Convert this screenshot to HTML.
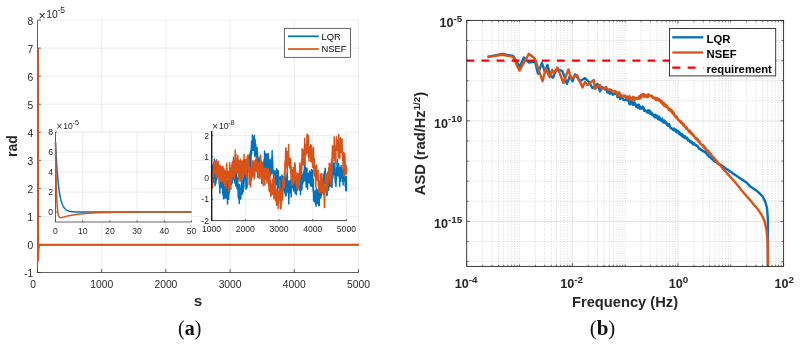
<!DOCTYPE html>
<html><head><meta charset="utf-8"><title>figure</title>
<style>
html,body{margin:0;padding:0;background:#fff;}
body{width:800px;height:344px;overflow:hidden;}
svg{display:block;font-family:"Liberation Sans",sans-serif;will-change:transform;}
</style></head><body>
<svg width="800" height="344" viewBox="0 0 800 344">
<rect width="800" height="344" fill="#fff"/>
<g shape-rendering="auto">
<line x1="37.50" y1="20.1" x2="37.50" y2="272.5" stroke="#DFDFDF" stroke-width="0.6"/>
<line x1="101.70" y1="20.1" x2="101.70" y2="272.5" stroke="#DFDFDF" stroke-width="0.6"/>
<line x1="165.90" y1="20.1" x2="165.90" y2="272.5" stroke="#DFDFDF" stroke-width="0.6"/>
<line x1="230.10" y1="20.1" x2="230.10" y2="272.5" stroke="#DFDFDF" stroke-width="0.6"/>
<line x1="294.30" y1="20.1" x2="294.30" y2="272.5" stroke="#DFDFDF" stroke-width="0.6"/>
<line x1="358.50" y1="20.1" x2="358.50" y2="272.5" stroke="#DFDFDF" stroke-width="0.6"/>
<line x1="37.5" y1="272.50" x2="358.5" y2="272.50" stroke="#DFDFDF" stroke-width="0.6"/>
<line x1="37.5" y1="244.46" x2="358.5" y2="244.46" stroke="#DFDFDF" stroke-width="0.6"/>
<line x1="37.5" y1="216.41" x2="358.5" y2="216.41" stroke="#DFDFDF" stroke-width="0.6"/>
<line x1="37.5" y1="188.37" x2="358.5" y2="188.37" stroke="#DFDFDF" stroke-width="0.6"/>
<line x1="37.5" y1="160.32" x2="358.5" y2="160.32" stroke="#DFDFDF" stroke-width="0.6"/>
<line x1="37.5" y1="132.28" x2="358.5" y2="132.28" stroke="#DFDFDF" stroke-width="0.6"/>
<line x1="37.5" y1="104.23" x2="358.5" y2="104.23" stroke="#DFDFDF" stroke-width="0.6"/>
<line x1="37.5" y1="76.19" x2="358.5" y2="76.19" stroke="#DFDFDF" stroke-width="0.6"/>
<line x1="37.5" y1="48.14" x2="358.5" y2="48.14" stroke="#DFDFDF" stroke-width="0.6"/>
<line x1="37.5" y1="20.10" x2="358.5" y2="20.10" stroke="#DFDFDF" stroke-width="0.6"/>
<path d="M37.5,20.1 V272.5 H358.5" fill="none" stroke="#262626" stroke-width="0.7"/>
<line x1="37.50" y1="272.5" x2="37.50" y2="269.0" stroke="#262626" stroke-width="0.7"/>
<line x1="101.70" y1="272.5" x2="101.70" y2="269.0" stroke="#262626" stroke-width="0.7"/>
<line x1="165.90" y1="272.5" x2="165.90" y2="269.0" stroke="#262626" stroke-width="0.7"/>
<line x1="230.10" y1="272.5" x2="230.10" y2="269.0" stroke="#262626" stroke-width="0.7"/>
<line x1="294.30" y1="272.5" x2="294.30" y2="269.0" stroke="#262626" stroke-width="0.7"/>
<line x1="358.50" y1="272.5" x2="358.50" y2="269.0" stroke="#262626" stroke-width="0.7"/>
<line x1="37.5" y1="272.50" x2="41.0" y2="272.50" stroke="#262626" stroke-width="0.7"/>
<line x1="37.5" y1="244.46" x2="41.0" y2="244.46" stroke="#262626" stroke-width="0.7"/>
<line x1="37.5" y1="216.41" x2="41.0" y2="216.41" stroke="#262626" stroke-width="0.7"/>
<line x1="37.5" y1="188.37" x2="41.0" y2="188.37" stroke="#262626" stroke-width="0.7"/>
<line x1="37.5" y1="160.32" x2="41.0" y2="160.32" stroke="#262626" stroke-width="0.7"/>
<line x1="37.5" y1="132.28" x2="41.0" y2="132.28" stroke="#262626" stroke-width="0.7"/>
<line x1="37.5" y1="104.23" x2="41.0" y2="104.23" stroke="#262626" stroke-width="0.7"/>
<line x1="37.5" y1="76.19" x2="41.0" y2="76.19" stroke="#262626" stroke-width="0.7"/>
<line x1="37.5" y1="48.14" x2="41.0" y2="48.14" stroke="#262626" stroke-width="0.7"/>
<line x1="37.5" y1="20.10" x2="41.0" y2="20.10" stroke="#262626" stroke-width="0.7"/>
<text x="33.00" y="287.8" font-size="10.3" text-anchor="middle" fill="#262626">0</text>
<text x="101.70" y="287.8" font-size="10.3" text-anchor="middle" fill="#262626">1000</text>
<text x="165.90" y="287.8" font-size="10.3" text-anchor="middle" fill="#262626">2000</text>
<text x="230.10" y="287.8" font-size="10.3" text-anchor="middle" fill="#262626">3000</text>
<text x="294.30" y="287.8" font-size="10.3" text-anchor="middle" fill="#262626">4000</text>
<text x="358.50" y="287.8" font-size="10.3" text-anchor="middle" fill="#262626">5000</text>
<text x="33.3" y="277.00" font-size="10.3" text-anchor="end" fill="#262626">-1</text>
<text x="33.3" y="248.96" font-size="10.3" text-anchor="end" fill="#262626">0</text>
<text x="33.3" y="220.91" font-size="10.3" text-anchor="end" fill="#262626">1</text>
<text x="33.3" y="192.87" font-size="10.3" text-anchor="end" fill="#262626">2</text>
<text x="33.3" y="164.82" font-size="10.3" text-anchor="end" fill="#262626">3</text>
<text x="33.3" y="136.78" font-size="10.3" text-anchor="end" fill="#262626">4</text>
<text x="33.3" y="108.73" font-size="10.3" text-anchor="end" fill="#262626">5</text>
<text x="33.3" y="80.69" font-size="10.3" text-anchor="end" fill="#262626">6</text>
<text x="33.3" y="52.64" font-size="10.3" text-anchor="end" fill="#262626">7</text>
<text x="33.3" y="24.60" font-size="10.3" text-anchor="end" fill="#262626">8</text>
<text font-size="10.3" fill="#262626"><tspan x="38.4" y="19.5" font-size="12.4">×</tspan><tspan x="46.3" y="17.8">10</tspan><tspan x="57.4" y="12.6" font-size="8.6">-5</tspan></text>
<text x="198" y="306" font-size="14.6" font-weight="bold" text-anchor="middle" fill="#262626">s</text>
<text transform="translate(17,146) rotate(-90)" font-size="14" font-weight="bold" text-anchor="middle" fill="#262626">rad</text>
<polyline points="38.00,48.44 38.01,72.70 38.02,93.97 38.03,112.60 38.04,128.93 38.05,143.25 38.06,155.79 38.07,166.78 38.08,176.42 38.09,184.86 38.10,192.27 38.11,198.75 38.12,204.44 38.13,209.42 38.14,213.79 38.14,217.61 38.15,220.97 38.16,223.91 38.17,226.48 38.18,228.74 38.19,230.72 38.20,232.46 38.21,233.98 38.22,235.31 38.23,236.48 38.24,237.50 38.25,238.40 38.26,239.18 38.27,239.87 38.28,240.47 38.29,241.00 38.30,241.47 38.31,241.87 38.32,242.23 38.33,242.54 38.34,242.82 38.35,243.05 38.36,243.27 38.37,243.45 38.38,243.61 38.39,243.75 38.40,243.88 38.41,243.98 38.42,244.08 38.42,244.16 38.43,244.24 38.44,244.30 38.45,244.36 38.46,244.41 38.47,244.45 38.48,244.49 38.49,244.52 38.50,244.55 38.51,244.57 38.52,244.60 38.53,244.62 38.54,244.63 38.55,244.65 38.56,244.66 38.57,244.67 38.58,244.68 38.59,244.69 38.60,244.70 38.61,244.71 38.62,244.71 38.63,244.72 38.64,244.72 38.65,244.73 38.66,244.73 38.67,244.73 38.68,244.74 38.69,244.74 38.70,244.74 38.70,244.74 38.71,244.74 38.72,244.75 38.73,244.75 38.74,244.75 38.75,244.75 38.76,244.75 38.77,244.75 38.78,244.75 38.79,244.75 38.80,244.75 38.81,244.75 38.82,244.75 38.83,244.75 38.84,244.75 38.85,244.75 38.86,244.75 38.87,244.75 38.88,244.75 38.89,244.75 38.90,244.75 38.91,244.75 38.92,244.75 38.93,244.75 38.94,244.76 38.95,244.76 38.96,244.76 38.97,244.76 38.98,244.76 38.98,244.76 38.99,244.76 39.00,244.76 39.01,244.76 39.02,244.76 39.03,244.76 39.04,244.76 39.05,244.76 39.06,244.76 39.07,244.76 39.08,244.76 39.09,244.76 39.10,244.76 39.11,244.76 39.12,244.76 39.13,244.76 39.14,244.76 39.15,244.76 39.16,244.76 39.17,244.76 39.18,244.76 39.19,244.76 39.20,244.76 39.21,244.76 39.22,244.76 39.23,244.76 39.24,244.76 39.25,244.76 39.26,244.76 39.26,244.76 39.27,244.76 39.28,244.76 39.29,244.76 39.30,244.76 39.31,244.76 39.32,244.76 39.33,244.76 39.34,244.76 39.35,244.76 39.36,244.76 39.37,244.76 39.38,244.76 39.39,244.76 39.40,244.76 39.41,244.76 39.42,244.76 39.43,244.76 39.44,244.76 39.45,244.76 39.46,244.76 39.47,244.76 39.48,244.76 39.49,244.76 39.50,244.76 39.51,244.76 39.52,244.76 39.53,244.76 39.54,244.76 39.54,244.76 39.55,244.76 39.56,244.76 39.57,244.76 39.58,244.76 39.59,244.76 39.60,244.76 39.61,244.76 39.62,244.76 39.63,244.76 39.64,244.76 39.65,244.76 39.66,244.76 39.67,244.76 39.68,244.76 39.69,244.76 39.70,244.76 39.71,244.76 39.72,244.76 39.73,244.76 39.74,244.76 39.75,244.76 39.76,244.76 39.77,244.76 39.78,244.76 39.79,244.76 39.80,244.76 39.81,244.76 39.81,244.76 39.82,244.76 39.83,244.76 39.84,244.76 39.85,244.76 39.86,244.76 39.87,244.76 39.88,244.76 39.89,244.76 39.90,244.76 39.91,244.76 39.92,244.76 39.93,244.76 39.94,244.76 39.95,244.76 39.96,244.76 39.97,244.76 39.98,244.76 39.99,244.76 40.00,244.76 40.01,244.76 40.02,244.76 40.03,244.76 40.04,244.76 40.05,244.76 40.06,244.76 40.07,244.76 40.08,244.76 40.09,244.76 40.09,244.76 40.10,244.76 40.11,244.76 40.12,244.76 40.13,244.76 40.14,244.76 40.15,244.76 40.16,244.76 40.17,244.76 40.18,244.76 40.19,244.76 40.20,244.76 40.21,244.76 40.22,244.76 40.23,244.76 40.24,244.76 40.25,244.76 40.26,244.76 40.27,244.76 40.28,244.76 40.29,244.76 40.30,244.76 40.31,244.76 40.32,244.76 40.33,244.76 40.34,244.76 40.35,244.76 40.36,244.76 40.37,244.76 40.37,244.76 40.38,244.76 40.39,244.76 40.40,244.76 40.41,244.76 40.42,244.76 40.43,244.76 40.44,244.76 40.45,244.76 40.46,244.76 40.47,244.76 40.48,244.76 40.49,244.76 40.50,244.76 40.51,244.76 40.52,244.76 40.53,244.76 40.54,244.76 40.55,244.76 40.56,244.76 40.57,244.76 40.58,244.76 40.59,244.76 40.60,244.76 40.61,244.76 40.62,244.76 40.63,244.76 40.64,244.76 40.65,244.76 40.65,244.76 40.66,244.76 40.67,244.76 40.68,244.76 40.69,244.76 40.70,244.76 40.71,244.76 40.72,244.76 40.73,244.76 40.74,244.76 40.75,244.76 40.76,244.76 40.77,244.76 40.78,244.76 40.79,244.76 40.80,244.76 40.81,244.76 40.82,244.76 40.83,244.76 40.84,244.76 40.85,244.76 40.86,244.76 40.87,244.76 40.88,244.76 40.89,244.76 40.90,244.76 40.91,244.76 40.92,244.76 40.93,244.76 40.93,244.76 40.94,244.76 40.95,244.76 40.96,244.76 40.97,244.76 40.98,244.76 40.99,244.76 41.00,244.76 41.01,244.76 41.02,244.76 41.03,244.76 41.04,244.76 41.05,244.76 41.06,244.76 41.07,244.76 41.08,244.76 41.09,244.76 41.10,244.76 41.11,244.76 41.12,244.76 41.13,244.76 41.14,244.76 41.15,244.76 41.16,244.76 41.17,244.76 41.18,244.76 41.19,244.76 41.20,244.76 41.21,244.76 41.21,244.76 41.22,244.76 41.23,244.76 41.24,244.76 41.25,244.76 41.26,244.76 41.27,244.76 41.28,244.76 41.29,244.76 41.30,244.76 41.31,244.76 41.32,244.76 41.33,244.76 41.34,244.76 41.35,244.76 41.36,244.76 41.37,244.76 41.38,244.76 41.39,244.76 41.40,244.76 41.41,244.76 41.42,244.76 41.43,244.76 41.44,244.76 41.45,244.76 41.46,244.76 41.47,244.76 41.48,244.76 41.49,244.76 41.49,244.76 41.50,244.76 41.51,244.76 41.52,244.76 41.53,244.76 41.54,244.76 41.55,244.76 41.56,244.76 41.57,244.76 41.58,244.76 41.59,244.76 41.60,244.76 41.61,244.76 41.62,244.76 41.63,244.76 41.64,244.76 41.65,244.76 41.66,244.76 41.67,244.76 41.68,244.76 41.69,244.76 41.70,244.76 41.71,244.76 41.72,244.76 41.73,244.76 41.74,244.76 41.75,244.76 41.76,244.76 41.77,244.76 41.77,244.76 41.78,244.76 41.79,244.76 41.80,244.76 41.81,244.76 41.82,244.76 41.83,244.76 41.84,244.76 41.85,244.76 41.85,244.76 48.32,244.76 54.80,244.76 61.27,244.76 67.74,244.76 74.21,244.76 80.69,244.76 87.16,244.76 93.63,244.76 100.10,244.76 106.58,244.76 113.05,244.76 119.52,244.76 125.99,244.76 132.47,244.76 138.94,244.76 145.41,244.76 151.88,244.76 158.36,244.76 164.83,244.76 171.30,244.76 177.77,244.76 184.24,244.76 190.72,244.76 197.19,244.76 203.66,244.76 210.13,244.76 216.61,244.76 223.08,244.76 229.55,244.76 236.02,244.76 242.50,244.76 248.97,244.76 255.44,244.76 261.91,244.76 268.39,244.76 274.86,244.76 281.33,244.76 287.80,244.76 294.28,244.76 300.75,244.76 307.22,244.76 313.69,244.76 320.17,244.76 326.64,244.76 333.11,244.76 339.58,244.76 346.06,244.76 352.53,244.76 359.00,244.76" fill="none" stroke="#0072BD" stroke-width="1.7" stroke-linejoin="round"/>
<polyline points="38.00,48.44 38.01,124.33 38.02,173.55 38.03,205.41 38.04,225.98 38.05,239.21 38.06,247.67 38.07,253.03 38.08,256.37 38.09,258.40 38.10,259.58 38.11,260.21 38.12,260.49 38.13,260.54 38.14,260.45 38.14,260.27 38.15,260.02 38.16,259.75 38.17,259.45 38.18,259.15 38.19,258.84 38.20,258.53 38.21,258.22 38.22,257.92 38.23,257.62 38.24,257.33 38.25,257.05 38.26,256.77 38.27,256.49 38.28,256.22 38.29,255.96 38.30,255.71 38.31,255.46 38.32,255.21 38.33,254.97 38.34,254.74 38.35,254.51 38.36,254.29 38.37,254.07 38.38,253.86 38.39,253.65 38.40,253.45 38.41,253.25 38.42,253.05 38.42,252.86 38.43,252.68 38.44,252.50 38.45,252.32 38.46,252.15 38.47,251.98 38.48,251.81 38.49,251.65 38.50,251.49 38.51,251.34 38.52,251.19 38.53,251.04 38.54,250.90 38.55,250.76 38.56,250.62 38.57,250.49 38.58,250.35 38.59,250.23 38.60,250.10 38.61,249.98 38.62,249.86 38.63,249.74 38.64,249.63 38.65,249.52 38.66,249.41 38.67,249.30 38.68,249.20 38.69,249.10 38.70,249.00 38.70,248.90 38.71,248.81 38.72,248.71 38.73,248.62 38.74,248.53 38.75,248.45 38.76,248.36 38.77,248.28 38.78,248.20 38.79,248.12 38.80,248.04 38.81,247.97 38.82,247.90 38.83,247.82 38.84,247.75 38.85,247.68 38.86,247.62 38.87,247.55 38.88,247.49 38.89,247.43 38.90,247.36 38.91,247.31 38.92,247.25 38.93,247.19 38.94,247.13 38.95,247.08 38.96,247.03 38.97,246.97 38.98,246.92 38.98,246.87 38.99,246.83 39.00,246.78 39.01,246.73 39.02,246.69 39.03,246.64 39.04,246.60 39.05,246.56 39.06,246.52 39.07,246.48 39.08,246.44 39.09,246.40 39.10,246.36 39.11,246.32 39.12,246.29 39.13,246.25 39.14,246.22 39.15,246.19 39.16,246.15 39.17,246.12 39.18,246.09 39.19,246.06 39.20,246.03 39.21,246.00 39.22,245.97 39.23,245.94 39.24,245.92 39.25,245.89 39.26,245.86 39.26,245.84 39.27,245.81 39.28,245.79 39.29,245.77 39.30,245.74 39.31,245.72 39.32,245.70 39.33,245.68 39.34,245.66 39.35,245.64 39.36,245.62 39.37,245.60 39.38,245.58 39.39,245.56 39.40,245.54 39.41,245.52 39.42,245.50 39.43,245.49 39.44,245.47 39.45,245.45 39.46,245.44 39.47,245.42 39.48,245.41 39.49,245.39 39.50,245.38 39.51,245.36 39.52,245.35 39.53,245.34 39.54,245.32 39.54,245.31 39.55,245.30 39.56,245.28 39.57,245.27 39.58,245.26 39.59,245.25 39.60,245.24 39.61,245.23 39.62,245.22 39.63,245.21 39.64,245.19 39.65,245.18 39.66,245.18 39.67,245.17 39.68,245.16 39.69,245.15 39.70,245.14 39.71,245.13 39.72,245.12 39.73,245.11 39.74,245.10 39.75,245.10 39.76,245.09 39.77,245.08 39.78,245.07 39.79,245.07 39.80,245.06 39.81,245.05 39.81,245.05 39.82,245.04 39.83,245.03 39.84,245.03 39.85,245.02 39.86,245.01 39.87,245.01 39.88,245.00 39.89,245.00 39.90,244.99 39.91,244.99 39.92,244.98 39.93,244.98 39.94,244.97 39.95,244.97 39.96,244.96 39.97,244.96 39.98,244.95 39.99,244.95 40.00,244.94 40.01,244.94 40.02,244.93 40.03,244.93 40.04,244.93 40.05,244.92 40.06,244.92 40.07,244.91 40.08,244.91 40.09,244.91 40.09,244.90 40.10,244.90 40.11,244.90 40.12,244.89 40.13,244.89 40.14,244.89 40.15,244.88 40.16,244.88 40.17,244.88 40.18,244.88 40.19,244.87 40.20,244.87 40.21,244.87 40.22,244.87 40.23,244.86 40.24,244.86 40.25,244.86 40.26,244.86 40.27,244.85 40.28,244.85 40.29,244.85 40.30,244.85 40.31,244.84 40.32,244.84 40.33,244.84 40.34,244.84 40.35,244.84 40.36,244.83 40.37,244.83 40.37,244.83 40.38,244.83 40.39,244.83 40.40,244.83 40.41,244.82 40.42,244.82 40.43,244.82 40.44,244.82 40.45,244.82 40.46,244.82 40.47,244.82 40.48,244.81 40.49,244.81 40.50,244.81 40.51,244.81 40.52,244.81 40.53,244.81 40.54,244.81 40.55,244.81 40.56,244.80 40.57,244.80 40.58,244.80 40.59,244.80 40.60,244.80 40.61,244.80 40.62,244.80 40.63,244.80 40.64,244.80 40.65,244.80 40.65,244.79 40.66,244.79 40.67,244.79 40.68,244.79 40.69,244.79 40.70,244.79 40.71,244.79 40.72,244.79 40.73,244.79 40.74,244.79 40.75,244.79 40.76,244.79 40.77,244.78 40.78,244.78 40.79,244.78 40.80,244.78 40.81,244.78 40.82,244.78 40.83,244.78 40.84,244.78 40.85,244.78 40.86,244.78 40.87,244.78 40.88,244.78 40.89,244.78 40.90,244.78 40.91,244.78 40.92,244.78 40.93,244.78 40.93,244.78 40.94,244.77 40.95,244.77 40.96,244.77 40.97,244.77 40.98,244.77 40.99,244.77 41.00,244.77 41.01,244.77 41.02,244.77 41.03,244.77 41.04,244.77 41.05,244.77 41.06,244.77 41.07,244.77 41.08,244.77 41.09,244.77 41.10,244.77 41.11,244.77 41.12,244.77 41.13,244.77 41.14,244.77 41.15,244.77 41.16,244.77 41.17,244.77 41.18,244.77 41.19,244.77 41.20,244.77 41.21,244.77 41.21,244.77 41.22,244.77 41.23,244.77 41.24,244.76 41.25,244.76 41.26,244.76 41.27,244.76 41.28,244.76 41.29,244.76 41.30,244.76 41.31,244.76 41.32,244.76 41.33,244.76 41.34,244.76 41.35,244.76 41.36,244.76 41.37,244.76 41.38,244.76 41.39,244.76 41.40,244.76 41.41,244.76 41.42,244.76 41.43,244.76 41.44,244.76 41.45,244.76 41.46,244.76 41.47,244.76 41.48,244.76 41.49,244.76 41.49,244.76 41.50,244.76 41.51,244.76 41.52,244.76 41.53,244.76 41.54,244.76 41.55,244.76 41.56,244.76 41.57,244.76 41.58,244.76 41.59,244.76 41.60,244.76 41.61,244.76 41.62,244.76 41.63,244.76 41.64,244.76 41.65,244.76 41.66,244.76 41.67,244.76 41.68,244.76 41.69,244.76 41.70,244.76 41.71,244.76 41.72,244.76 41.73,244.76 41.74,244.76 41.75,244.76 41.76,244.76 41.77,244.76 41.77,244.76 41.78,244.76 41.79,244.76 41.80,244.76 41.81,244.76 41.82,244.76 41.83,244.76 41.84,244.76 41.85,244.76 41.85,244.76 48.32,244.76 54.80,244.76 61.27,244.76 67.74,244.76 74.21,244.76 80.69,244.76 87.16,244.76 93.63,244.76 100.10,244.76 106.58,244.76 113.05,244.76 119.52,244.76 125.99,244.76 132.47,244.76 138.94,244.76 145.41,244.76 151.88,244.76 158.36,244.76 164.83,244.76 171.30,244.76 177.77,244.76 184.24,244.76 190.72,244.76 197.19,244.76 203.66,244.76 210.13,244.76 216.61,244.76 223.08,244.76 229.55,244.76 236.02,244.76 242.50,244.76 248.97,244.76 255.44,244.76 261.91,244.76 268.39,244.76 274.86,244.76 281.33,244.76 287.80,244.76 294.28,244.76 300.75,244.76 307.22,244.76 313.69,244.76 320.17,244.76 326.64,244.76 333.11,244.76 339.58,244.76 346.06,244.76 352.53,244.76 359.00,244.76" fill="none" stroke="#D95319" stroke-width="1.8" stroke-linejoin="round"/>
<rect x="284.3" y="28.3" width="66.2" height="29" fill="#fff" stroke="#262626" stroke-width="0.7"/>
<line x1="288" y1="36.3" x2="318.8" y2="36.3" stroke="#0072BD" stroke-width="1.7"/>
<line x1="288" y1="49" x2="318.8" y2="49" stroke="#D95319" stroke-width="1.7"/>
<text x="321.6" y="39.7" font-size="9.4" fill="#000">LQR</text>
<text x="321.6" y="52.4" font-size="9.4" fill="#000">NSEF</text>
<rect x="55.5" y="132.2" width="136.0" height="89.80000000000001" fill="#fff"/>
<line x1="55.50" y1="132.2" x2="55.50" y2="222.0" stroke="#DFDFDF" stroke-width="0.6"/>
<line x1="82.70" y1="132.2" x2="82.70" y2="222.0" stroke="#DFDFDF" stroke-width="0.6"/>
<line x1="109.90" y1="132.2" x2="109.90" y2="222.0" stroke="#DFDFDF" stroke-width="0.6"/>
<line x1="137.10" y1="132.2" x2="137.10" y2="222.0" stroke="#DFDFDF" stroke-width="0.6"/>
<line x1="164.30" y1="132.2" x2="164.30" y2="222.0" stroke="#DFDFDF" stroke-width="0.6"/>
<line x1="191.50" y1="132.2" x2="191.50" y2="222.0" stroke="#DFDFDF" stroke-width="0.6"/>
<line x1="55.5" y1="212.02" x2="191.5" y2="212.02" stroke="#DFDFDF" stroke-width="0.6"/>
<line x1="55.5" y1="192.07" x2="191.5" y2="192.07" stroke="#DFDFDF" stroke-width="0.6"/>
<line x1="55.5" y1="172.11" x2="191.5" y2="172.11" stroke="#DFDFDF" stroke-width="0.6"/>
<line x1="55.5" y1="152.16" x2="191.5" y2="152.16" stroke="#DFDFDF" stroke-width="0.6"/>
<line x1="55.5" y1="132.20" x2="191.5" y2="132.20" stroke="#DFDFDF" stroke-width="0.6"/>
<path d="M55.5,132.2 V222.0 H191.5" fill="none" stroke="#262626" stroke-width="0.7"/>
<line x1="55.50" y1="222.0" x2="55.50" y2="220.4" stroke="#262626" stroke-width="0.7"/>
<text x="55.50" y="234.3" font-size="8.6" text-anchor="middle" fill="#262626">0</text>
<line x1="82.70" y1="222.0" x2="82.70" y2="220.4" stroke="#262626" stroke-width="0.7"/>
<text x="82.70" y="234.3" font-size="8.6" text-anchor="middle" fill="#262626">10</text>
<line x1="109.90" y1="222.0" x2="109.90" y2="220.4" stroke="#262626" stroke-width="0.7"/>
<text x="109.90" y="234.3" font-size="8.6" text-anchor="middle" fill="#262626">20</text>
<line x1="137.10" y1="222.0" x2="137.10" y2="220.4" stroke="#262626" stroke-width="0.7"/>
<text x="137.10" y="234.3" font-size="8.6" text-anchor="middle" fill="#262626">30</text>
<line x1="164.30" y1="222.0" x2="164.30" y2="220.4" stroke="#262626" stroke-width="0.7"/>
<text x="164.30" y="234.3" font-size="8.6" text-anchor="middle" fill="#262626">40</text>
<line x1="191.50" y1="222.0" x2="191.50" y2="220.4" stroke="#262626" stroke-width="0.7"/>
<text x="191.50" y="234.3" font-size="8.6" text-anchor="middle" fill="#262626">50</text>
<line x1="55.5" y1="212.02" x2="57.1" y2="212.02" stroke="#262626" stroke-width="0.7"/>
<text x="53" y="215.02" font-size="8.6" text-anchor="end" fill="#262626">0</text>
<line x1="55.5" y1="192.07" x2="57.1" y2="192.07" stroke="#262626" stroke-width="0.7"/>
<text x="53" y="195.07" font-size="8.6" text-anchor="end" fill="#262626">2</text>
<line x1="55.5" y1="172.11" x2="57.1" y2="172.11" stroke="#262626" stroke-width="0.7"/>
<text x="53" y="175.11" font-size="8.6" text-anchor="end" fill="#262626">4</text>
<line x1="55.5" y1="152.16" x2="57.1" y2="152.16" stroke="#262626" stroke-width="0.7"/>
<text x="53" y="155.16" font-size="8.6" text-anchor="end" fill="#262626">6</text>
<line x1="55.5" y1="132.20" x2="57.1" y2="132.20" stroke="#262626" stroke-width="0.7"/>
<text x="53" y="135.20" font-size="8.6" text-anchor="end" fill="#262626">8</text>
<text font-size="8.6" fill="#262626"><tspan x="56.6" y="130.1" font-size="10">×</tspan><tspan x="63.3" y="128.6">10</tspan><tspan x="72.6" y="125" font-size="7.2">-5</tspan></text>
<polyline points="55.50,142.18 55.77,148.05 56.05,153.44 56.32,158.37 56.59,162.88 56.86,167.02 57.14,170.80 57.41,174.27 57.68,177.45 57.95,180.36 58.23,183.02 58.50,185.46 58.77,187.70 59.04,189.74 59.32,191.62 59.59,193.33 59.86,194.91 60.13,196.35 60.41,197.67 60.68,198.87 60.95,199.98 61.22,200.99 61.50,201.92 61.77,202.77 62.04,203.55 62.31,204.26 62.59,204.92 62.86,205.51 63.13,206.06 63.40,206.56 63.68,207.02 63.95,207.44 64.22,207.83 64.49,208.18 64.77,208.50 65.04,208.80 65.31,209.07 65.58,209.32 65.86,209.55 66.13,209.76 66.40,209.95 66.67,210.12 66.95,210.28 67.22,210.43 67.49,210.56 67.76,210.68 68.04,210.80 68.31,210.90 68.58,210.99 68.85,211.08 69.13,211.16 69.40,211.23 69.67,211.30 69.94,211.36 70.22,211.42 70.49,211.47 70.76,211.51 71.04,211.56 71.31,211.60 71.58,211.63 71.85,211.66 72.13,211.69 72.40,211.72 72.67,211.75 72.94,211.77 73.22,211.79 73.49,211.81 73.76,211.83 74.03,211.85 74.31,211.86 74.58,211.87 74.85,211.89 75.12,211.90 75.40,211.91 75.67,211.92 75.94,211.93 76.21,211.93 76.49,211.94 76.76,211.95 77.03,211.95 77.30,211.96 77.58,211.97 77.85,211.97 78.12,211.97 78.39,211.98 78.67,211.98 78.94,211.99 79.21,211.99 79.48,211.99 79.76,211.99 80.03,212.00 80.30,212.00 80.57,212.00 80.85,212.00 81.12,212.00 81.39,212.01 81.66,212.01 81.94,212.01 82.21,212.01 82.48,212.01 82.75,212.01 83.03,212.01 83.30,212.01 83.57,212.01 83.84,212.01 84.12,212.02 84.39,212.02 84.66,212.02 84.93,212.02 85.21,212.02 85.48,212.02 85.75,212.02 86.03,212.02 86.30,212.02 86.57,212.02 86.84,212.02 87.12,212.02 87.39,212.02 87.66,212.02 87.93,212.02 88.21,212.02 88.48,212.02 88.75,212.02 89.02,212.02 89.30,212.02 89.57,212.02 89.84,212.02 90.11,212.02 90.39,212.02 90.66,212.02 90.93,212.02 91.20,212.02 91.48,212.02 91.75,212.02 92.02,212.02 92.29,212.02 92.57,212.02 92.84,212.02 93.11,212.02 93.38,212.02 93.66,212.02 93.93,212.02 94.20,212.02 94.47,212.02 94.75,212.02 95.02,212.02 95.29,212.02 95.56,212.02 95.84,212.02 96.11,212.02 96.38,212.02 96.65,212.02 96.93,212.02 97.20,212.02 97.47,212.02 97.74,212.02 98.02,212.02 98.29,212.02 98.56,212.02 98.83,212.02 99.11,212.02 99.38,212.02 99.65,212.02 99.92,212.02 100.20,212.02 100.47,212.02 100.74,212.02 101.02,212.02 101.29,212.02 101.56,212.02 101.83,212.02 102.11,212.02 102.38,212.02 102.65,212.02 102.92,212.02 103.20,212.02 103.47,212.02 103.74,212.02 104.01,212.02 104.29,212.02 104.56,212.02 104.83,212.02 105.10,212.02 105.38,212.02 105.65,212.02 105.92,212.02 106.19,212.02 106.47,212.02 106.74,212.02 107.01,212.02 107.28,212.02 107.56,212.02 107.83,212.02 108.10,212.02 108.37,212.02 108.65,212.02 108.92,212.02 109.19,212.02 109.46,212.02 109.74,212.02 110.01,212.02 110.28,212.02 110.55,212.02 110.83,212.02 111.10,212.02 111.37,212.02 111.64,212.02 111.92,212.02 112.19,212.02 112.46,212.02 112.73,212.02 113.01,212.02 113.28,212.02 113.55,212.02 113.82,212.02 114.10,212.02 114.37,212.02 114.64,212.02 114.91,212.02 115.19,212.02 115.46,212.02 115.73,212.02 116.01,212.02 116.28,212.02 116.55,212.02 116.82,212.02 117.10,212.02 117.37,212.02 117.64,212.02 117.91,212.02 118.19,212.02 118.46,212.02 118.73,212.02 119.00,212.02 119.28,212.02 119.55,212.02 119.82,212.02 120.09,212.02 120.37,212.02 120.64,212.02 120.91,212.02 121.18,212.02 121.46,212.02 121.73,212.02 122.00,212.02 122.27,212.02 122.55,212.02 122.82,212.02 123.09,212.02 123.36,212.02 123.64,212.02 123.91,212.02 124.18,212.02 124.45,212.02 124.73,212.02 125.00,212.02 125.27,212.02 125.54,212.02 125.82,212.02 126.09,212.02 126.36,212.02 126.63,212.02 126.91,212.02 127.18,212.02 127.45,212.02 127.72,212.02 128.00,212.02 128.27,212.02 128.54,212.02 128.81,212.02 129.09,212.02 129.36,212.02 129.63,212.02 129.90,212.02 130.18,212.02 130.45,212.02 130.72,212.02 130.99,212.02 131.27,212.02 131.54,212.02 131.81,212.02 132.09,212.02 132.36,212.02 132.63,212.02 132.90,212.02 133.18,212.02 133.45,212.02 133.72,212.02 133.99,212.02 134.27,212.02 134.54,212.02 134.81,212.02 135.08,212.02 135.36,212.02 135.63,212.02 135.90,212.02 136.17,212.02 136.45,212.02 136.72,212.02 136.99,212.02 137.26,212.02 137.54,212.02 137.81,212.02 138.08,212.02 138.35,212.02 138.63,212.02 138.90,212.02 139.17,212.02 139.44,212.02 139.72,212.02 139.99,212.02 140.26,212.02 140.53,212.02 140.81,212.02 141.08,212.02 141.35,212.02 141.62,212.02 141.90,212.02 142.17,212.02 142.44,212.02 142.71,212.02 142.99,212.02 143.26,212.02 143.53,212.02 143.80,212.02 144.08,212.02 144.35,212.02 144.62,212.02 144.89,212.02 145.17,212.02 145.44,212.02 145.71,212.02 145.98,212.02 146.26,212.02 146.53,212.02 146.80,212.02 147.08,212.02 147.35,212.02 147.62,212.02 147.89,212.02 148.17,212.02 148.44,212.02 148.71,212.02 148.98,212.02 149.26,212.02 149.53,212.02 149.80,212.02 150.07,212.02 150.35,212.02 150.62,212.02 150.89,212.02 151.16,212.02 151.44,212.02 151.71,212.02 151.98,212.02 152.25,212.02 152.53,212.02 152.80,212.02 153.07,212.02 153.34,212.02 153.62,212.02 153.89,212.02 154.16,212.02 154.43,212.02 154.71,212.02 154.98,212.02 155.25,212.02 155.52,212.02 155.80,212.02 156.07,212.02 156.34,212.02 156.61,212.02 156.89,212.02 157.16,212.02 157.43,212.02 157.70,212.02 157.98,212.02 158.25,212.02 158.52,212.02 158.79,212.02 159.07,212.02 159.34,212.02 159.61,212.02 159.88,212.02 160.16,212.02 160.43,212.02 160.70,212.02 160.97,212.02 161.25,212.02 161.52,212.02 161.79,212.02 162.07,212.02 162.34,212.02 162.61,212.02 162.88,212.02 163.16,212.02 163.43,212.02 163.70,212.02 163.97,212.02 164.25,212.02 164.52,212.02 164.79,212.02 165.06,212.02 165.34,212.02 165.61,212.02 165.88,212.02 166.15,212.02 166.43,212.02 166.70,212.02 166.97,212.02 167.24,212.02 167.52,212.02 167.79,212.02 168.06,212.02 168.33,212.02 168.61,212.02 168.88,212.02 169.15,212.02 169.42,212.02 169.70,212.02 169.97,212.02 170.24,212.02 170.51,212.02 170.79,212.02 171.06,212.02 171.33,212.02 171.60,212.02 171.88,212.02 172.15,212.02 172.42,212.02 172.69,212.02 172.97,212.02 173.24,212.02 173.51,212.02 173.78,212.02 174.06,212.02 174.33,212.02 174.60,212.02 174.87,212.02 175.15,212.02 175.42,212.02 175.69,212.02 175.96,212.02 176.24,212.02 176.51,212.02 176.78,212.02 177.06,212.02 177.33,212.02 177.60,212.02 177.87,212.02 178.15,212.02 178.42,212.02 178.69,212.02 178.96,212.02 179.24,212.02 179.51,212.02 179.78,212.02 180.05,212.02 180.33,212.02 180.60,212.02 180.87,212.02 181.14,212.02 181.42,212.02 181.69,212.02 181.96,212.02 182.23,212.02 182.51,212.02 182.78,212.02 183.05,212.02 183.32,212.02 183.60,212.02 183.87,212.02 184.14,212.02 184.41,212.02 184.69,212.02 184.96,212.02 185.23,212.02 185.50,212.02 185.78,212.02 186.05,212.02 186.32,212.02 186.59,212.02 186.87,212.02 187.14,212.02 187.41,212.02 187.68,212.02 187.96,212.02 188.23,212.02 188.50,212.02 188.77,212.02 189.05,212.02 189.32,212.02 189.59,212.02 189.86,212.02 190.14,212.02 190.41,212.02 190.68,212.02 190.95,212.02 191.23,212.02 191.50,212.02" fill="none" stroke="#0072BD" stroke-width="1.5" stroke-linejoin="round"/>
<polyline points="55.50,142.18 55.77,161.43 56.05,175.86 56.32,186.67 56.59,194.76 56.86,200.81 57.14,205.33 57.41,208.70 57.68,211.20 57.95,213.05 58.23,214.42 58.50,215.42 58.77,216.15 59.04,216.67 59.32,217.04 59.59,217.29 59.86,217.46 60.13,217.57 60.41,217.62 60.68,217.64 60.95,217.63 61.22,217.61 61.50,217.57 61.77,217.51 62.04,217.46 62.31,217.39 62.59,217.32 62.86,217.25 63.13,217.18 63.40,217.11 63.68,217.03 63.95,216.96 64.22,216.89 64.49,216.82 64.77,216.74 65.04,216.67 65.31,216.60 65.58,216.53 65.86,216.46 66.13,216.40 66.40,216.33 66.67,216.26 66.95,216.20 67.22,216.14 67.49,216.07 67.76,216.01 68.04,215.95 68.31,215.89 68.58,215.83 68.85,215.77 69.13,215.72 69.40,215.66 69.67,215.60 69.94,215.55 70.22,215.49 70.49,215.44 70.76,215.39 71.04,215.34 71.31,215.29 71.58,215.24 71.85,215.19 72.13,215.14 72.40,215.09 72.67,215.04 72.94,215.00 73.22,214.95 73.49,214.91 73.76,214.86 74.03,214.82 74.31,214.78 74.58,214.74 74.85,214.69 75.12,214.65 75.40,214.61 75.67,214.57 75.94,214.53 76.21,214.50 76.49,214.46 76.76,214.42 77.03,214.38 77.30,214.35 77.58,214.31 77.85,214.28 78.12,214.24 78.39,214.21 78.67,214.18 78.94,214.14 79.21,214.11 79.48,214.08 79.76,214.05 80.03,214.02 80.30,213.99 80.57,213.96 80.85,213.93 81.12,213.90 81.39,213.87 81.66,213.84 81.94,213.81 82.21,213.78 82.48,213.76 82.75,213.73 83.03,213.70 83.30,213.68 83.57,213.65 83.84,213.63 84.12,213.60 84.39,213.58 84.66,213.56 84.93,213.53 85.21,213.51 85.48,213.49 85.75,213.46 86.03,213.44 86.30,213.42 86.57,213.40 86.84,213.38 87.12,213.36 87.39,213.34 87.66,213.32 87.93,213.30 88.21,213.28 88.48,213.26 88.75,213.24 89.02,213.22 89.30,213.20 89.57,213.18 89.84,213.17 90.11,213.15 90.39,213.13 90.66,213.11 90.93,213.10 91.20,213.08 91.48,213.07 91.75,213.05 92.02,213.03 92.29,213.02 92.57,213.00 92.84,212.99 93.11,212.97 93.38,212.96 93.66,212.94 93.93,212.93 94.20,212.92 94.47,212.90 94.75,212.89 95.02,212.88 95.29,212.86 95.56,212.85 95.84,212.84 96.11,212.82 96.38,212.81 96.65,212.80 96.93,212.79 97.20,212.78 97.47,212.77 97.74,212.75 98.02,212.74 98.29,212.73 98.56,212.72 98.83,212.71 99.11,212.70 99.38,212.69 99.65,212.68 99.92,212.67 100.20,212.66 100.47,212.65 100.74,212.64 101.02,212.63 101.29,212.62 101.56,212.61 101.83,212.60 102.11,212.59 102.38,212.59 102.65,212.58 102.92,212.57 103.20,212.56 103.47,212.55 103.74,212.54 104.01,212.54 104.29,212.53 104.56,212.52 104.83,212.51 105.10,212.50 105.38,212.50 105.65,212.49 105.92,212.48 106.19,212.48 106.47,212.47 106.74,212.46 107.01,212.46 107.28,212.45 107.56,212.44 107.83,212.44 108.10,212.43 108.37,212.42 108.65,212.42 108.92,212.41 109.19,212.41 109.46,212.40 109.74,212.39 110.01,212.39 110.28,212.38 110.55,212.38 110.83,212.37 111.10,212.37 111.37,212.36 111.64,212.36 111.92,212.35 112.19,212.35 112.46,212.34 112.73,212.34 113.01,212.33 113.28,212.33 113.55,212.32 113.82,212.32 114.10,212.31 114.37,212.31 114.64,212.30 114.91,212.30 115.19,212.30 115.46,212.29 115.73,212.29 116.01,212.28 116.28,212.28 116.55,212.27 116.82,212.27 117.10,212.27 117.37,212.26 117.64,212.26 117.91,212.26 118.19,212.25 118.46,212.25 118.73,212.25 119.00,212.24 119.28,212.24 119.55,212.24 119.82,212.23 120.09,212.23 120.37,212.23 120.64,212.22 120.91,212.22 121.18,212.22 121.46,212.21 121.73,212.21 122.00,212.21 122.27,212.20 122.55,212.20 122.82,212.20 123.09,212.20 123.36,212.19 123.64,212.19 123.91,212.19 124.18,212.19 124.45,212.18 124.73,212.18 125.00,212.18 125.27,212.18 125.54,212.17 125.82,212.17 126.09,212.17 126.36,212.17 126.63,212.17 126.91,212.16 127.18,212.16 127.45,212.16 127.72,212.16 128.00,212.15 128.27,212.15 128.54,212.15 128.81,212.15 129.09,212.15 129.36,212.14 129.63,212.14 129.90,212.14 130.18,212.14 130.45,212.14 130.72,212.14 130.99,212.13 131.27,212.13 131.54,212.13 131.81,212.13 132.09,212.13 132.36,212.13 132.63,212.12 132.90,212.12 133.18,212.12 133.45,212.12 133.72,212.12 133.99,212.12 134.27,212.11 134.54,212.11 134.81,212.11 135.08,212.11 135.36,212.11 135.63,212.11 135.90,212.11 136.17,212.11 136.45,212.10 136.72,212.10 136.99,212.10 137.26,212.10 137.54,212.10 137.81,212.10 138.08,212.10 138.35,212.10 138.63,212.09 138.90,212.09 139.17,212.09 139.44,212.09 139.72,212.09 139.99,212.09 140.26,212.09 140.53,212.09 140.81,212.09 141.08,212.09 141.35,212.08 141.62,212.08 141.90,212.08 142.17,212.08 142.44,212.08 142.71,212.08 142.99,212.08 143.26,212.08 143.53,212.08 143.80,212.08 144.08,212.08 144.35,212.07 144.62,212.07 144.89,212.07 145.17,212.07 145.44,212.07 145.71,212.07 145.98,212.07 146.26,212.07 146.53,212.07 146.80,212.07 147.08,212.07 147.35,212.07 147.62,212.07 147.89,212.07 148.17,212.06 148.44,212.06 148.71,212.06 148.98,212.06 149.26,212.06 149.53,212.06 149.80,212.06 150.07,212.06 150.35,212.06 150.62,212.06 150.89,212.06 151.16,212.06 151.44,212.06 151.71,212.06 151.98,212.06 152.25,212.06 152.53,212.06 152.80,212.05 153.07,212.05 153.34,212.05 153.62,212.05 153.89,212.05 154.16,212.05 154.43,212.05 154.71,212.05 154.98,212.05 155.25,212.05 155.52,212.05 155.80,212.05 156.07,212.05 156.34,212.05 156.61,212.05 156.89,212.05 157.16,212.05 157.43,212.05 157.70,212.05 157.98,212.05 158.25,212.05 158.52,212.05 158.79,212.05 159.07,212.05 159.34,212.04 159.61,212.04 159.88,212.04 160.16,212.04 160.43,212.04 160.70,212.04 160.97,212.04 161.25,212.04 161.52,212.04 161.79,212.04 162.07,212.04 162.34,212.04 162.61,212.04 162.88,212.04 163.16,212.04 163.43,212.04 163.70,212.04 163.97,212.04 164.25,212.04 164.52,212.04 164.79,212.04 165.06,212.04 165.34,212.04 165.61,212.04 165.88,212.04 166.15,212.04 166.43,212.04 166.70,212.04 166.97,212.04 167.24,212.04 167.52,212.04 167.79,212.04 168.06,212.04 168.33,212.04 168.61,212.04 168.88,212.04 169.15,212.04 169.42,212.03 169.70,212.03 169.97,212.03 170.24,212.03 170.51,212.03 170.79,212.03 171.06,212.03 171.33,212.03 171.60,212.03 171.88,212.03 172.15,212.03 172.42,212.03 172.69,212.03 172.97,212.03 173.24,212.03 173.51,212.03 173.78,212.03 174.06,212.03 174.33,212.03 174.60,212.03 174.87,212.03 175.15,212.03 175.42,212.03 175.69,212.03 175.96,212.03 176.24,212.03 176.51,212.03 176.78,212.03 177.06,212.03 177.33,212.03 177.60,212.03 177.87,212.03 178.15,212.03 178.42,212.03 178.69,212.03 178.96,212.03 179.24,212.03 179.51,212.03 179.78,212.03 180.05,212.03 180.33,212.03 180.60,212.03 180.87,212.03 181.14,212.03 181.42,212.03 181.69,212.03 181.96,212.03 182.23,212.03 182.51,212.03 182.78,212.03 183.05,212.03 183.32,212.03 183.60,212.03 183.87,212.03 184.14,212.03 184.41,212.03 184.69,212.03 184.96,212.03 185.23,212.03 185.50,212.03 185.78,212.03 186.05,212.03 186.32,212.03 186.59,212.03 186.87,212.03 187.14,212.03 187.41,212.03 187.68,212.03 187.96,212.03 188.23,212.03 188.50,212.03 188.77,212.03 189.05,212.03 189.32,212.03 189.59,212.03 189.86,212.03 190.14,212.03 190.41,212.03 190.68,212.03 190.95,212.03 191.23,212.03 191.50,212.03" fill="none" stroke="#D95319" stroke-width="1.5" stroke-linejoin="round"/>
<rect x="211.6" y="131.4" width="134.79999999999998" height="89.19999999999999" fill="#fff"/>
<line x1="211.60" y1="131.4" x2="211.60" y2="220.6" stroke="#DFDFDF" stroke-width="0.6"/>
<line x1="245.30" y1="131.4" x2="245.30" y2="220.6" stroke="#DFDFDF" stroke-width="0.6"/>
<line x1="279.00" y1="131.4" x2="279.00" y2="220.6" stroke="#DFDFDF" stroke-width="0.6"/>
<line x1="312.70" y1="131.4" x2="312.70" y2="220.6" stroke="#DFDFDF" stroke-width="0.6"/>
<line x1="346.40" y1="131.4" x2="346.40" y2="220.6" stroke="#DFDFDF" stroke-width="0.6"/>
<line x1="211.6" y1="220.60" x2="346.4" y2="220.60" stroke="#DFDFDF" stroke-width="0.6"/>
<line x1="211.6" y1="199.35" x2="346.4" y2="199.35" stroke="#DFDFDF" stroke-width="0.6"/>
<line x1="211.6" y1="178.10" x2="346.4" y2="178.10" stroke="#DFDFDF" stroke-width="0.6"/>
<line x1="211.6" y1="156.85" x2="346.4" y2="156.85" stroke="#DFDFDF" stroke-width="0.6"/>
<line x1="211.6" y1="135.60" x2="346.4" y2="135.60" stroke="#DFDFDF" stroke-width="0.6"/>
<polyline points="211.60,177.88 211.69,164.98 211.78,166.88 211.87,179.70 211.96,166.43 212.05,176.02 212.14,184.01 212.23,170.66 212.32,169.22 212.41,175.22 212.50,181.34 212.59,169.36 212.68,174.22 212.77,168.04 212.86,166.02 212.95,167.76 213.04,172.23 213.13,177.98 213.22,167.60 213.31,182.41 213.40,173.69 213.49,173.61 213.58,168.46 213.67,171.46 213.76,171.03 213.85,169.72 213.94,175.58 214.03,170.92 214.12,170.89 214.21,177.87 214.30,174.39 214.39,159.01 214.48,164.40 214.57,173.33 214.66,168.68 214.75,175.00 214.84,171.85 214.93,174.15 215.02,185.65 215.11,176.13 215.20,171.91 215.29,168.36 215.38,178.03 215.47,183.82 215.56,177.75 215.65,181.82 215.74,180.02 215.83,183.71 215.92,179.48 216.01,179.46 216.10,176.39 216.19,180.28 216.28,179.83 216.37,175.50 216.46,164.88 216.55,177.75 216.64,165.69 216.73,165.55 216.82,177.06 216.91,179.25 217.00,171.30 217.09,168.38 217.18,175.48 217.27,169.76 217.36,170.57 217.45,172.24 217.54,168.68 217.63,172.48 217.72,167.44 217.80,176.18 217.89,166.88 217.98,166.83 218.07,171.82 218.16,166.07 218.25,163.56 218.34,165.92 218.43,167.89 218.52,166.22 218.61,174.56 218.70,174.70 218.79,176.82 218.88,176.33 218.97,171.39 219.06,171.32 219.15,173.70 219.24,166.35 219.33,173.66 219.42,178.61 219.51,185.76 219.60,188.21 219.69,186.36 219.78,179.69 219.87,193.21 219.96,182.92 220.05,185.98 220.14,181.94 220.23,185.40 220.32,181.91 220.41,187.32 220.50,177.28 220.59,186.54 220.68,179.45 220.77,178.64 220.86,187.40 220.95,174.55 221.04,183.24 221.13,175.98 221.22,182.23 221.31,178.07 221.40,179.10 221.49,187.38 221.58,176.43 221.67,179.00 221.76,187.05 221.85,182.18 221.94,181.70 222.03,184.96 222.12,185.95 222.21,178.55 222.30,183.07 222.39,179.74 222.48,175.04 222.57,183.30 222.66,193.33 222.75,184.74 222.84,194.10 222.93,192.38 223.02,175.55 223.11,193.01 223.20,189.80 223.29,196.02 223.38,187.68 223.47,184.92 223.56,198.82 223.65,189.56 223.74,185.59 223.83,186.13 223.92,186.72 224.01,193.81 224.10,192.09 224.19,197.68 224.28,198.28 224.37,194.39 224.46,181.71 224.55,196.94 224.64,186.97 224.73,189.49 224.82,197.42 224.91,193.28 225.00,189.38 225.09,193.00 225.18,187.64 225.27,196.07 225.36,196.04 225.45,187.45 225.54,190.90 225.63,196.07 225.72,192.39 225.81,184.74 225.90,192.60 225.99,198.28 226.08,187.62 226.17,183.65 226.26,189.27 226.35,193.68 226.44,197.16 226.53,186.40 226.62,189.05 226.71,188.55 226.80,190.39 226.89,180.38 226.98,188.71 227.07,191.17 227.16,190.16 227.25,195.74 227.34,193.13 227.43,196.13 227.52,203.98 227.61,196.54 227.70,194.99 227.79,192.09 227.88,182.43 227.97,180.51 228.06,184.24 228.15,196.40 228.24,199.22 228.33,189.79 228.42,192.83 228.51,189.68 228.60,195.43 228.69,199.17 228.78,183.77 228.87,194.93 228.96,191.59 229.05,193.78 229.14,183.49 229.23,186.29 229.32,182.63 229.41,182.10 229.50,183.59 229.59,178.14 229.68,191.39 229.77,180.90 229.86,185.01 229.95,182.41 230.03,180.47 230.12,174.02 230.21,182.29 230.30,178.90 230.39,175.73 230.48,182.31 230.57,177.91 230.66,176.02 230.75,173.34 230.84,176.88 230.93,175.42 231.02,177.72 231.11,171.20 231.20,179.43 231.29,182.97 231.38,176.06 231.47,184.28 231.56,184.56 231.65,177.94 231.74,174.94 231.83,176.60 231.92,183.24 232.01,183.16 232.10,178.52 232.19,183.10 232.28,177.55 232.37,171.73 232.46,179.53 232.55,179.52 232.64,176.07 232.73,175.88 232.82,178.30 232.91,179.65 233.00,177.90 233.09,177.55 233.18,177.61 233.27,176.22 233.36,171.46 233.45,177.90 233.54,162.18 233.63,157.49 233.72,168.72 233.81,162.99 233.90,164.23 233.99,162.93 234.08,166.86 234.17,177.88 234.26,170.43 234.35,178.78 234.44,175.54 234.53,181.81 234.62,183.02 234.71,177.25 234.80,168.61 234.89,175.49 234.98,177.61 235.07,172.41 235.16,177.57 235.25,181.51 235.34,174.51 235.43,181.34 235.52,174.54 235.61,177.65 235.70,175.41 235.79,185.95 235.88,181.06 235.97,178.19 236.06,171.72 236.15,173.70 236.24,175.05 236.33,182.29 236.42,174.14 236.51,181.29 236.60,183.59 236.69,178.66 236.78,187.17 236.87,176.96 236.96,186.19 237.05,188.70 237.14,182.44 237.23,183.26 237.32,181.43 237.41,180.27 237.50,188.20 237.59,182.73 237.68,182.17 237.77,182.45 237.86,178.27 237.95,188.19 238.04,190.14 238.13,192.22 238.22,196.86 238.31,193.66 238.40,193.12 238.49,191.73 238.58,198.85 238.67,196.57 238.76,190.59 238.85,186.36 238.94,194.65 239.03,196.20 239.12,197.82 239.21,199.34 239.30,203.38 239.39,184.39 239.48,195.24 239.57,189.15 239.66,185.47 239.75,193.61 239.84,192.86 239.93,195.84 240.02,197.02 240.11,197.74 240.20,199.19 240.29,195.21 240.38,192.14 240.47,197.85 240.56,196.03 240.65,190.78 240.74,193.53 240.83,198.70 240.92,191.31 241.01,195.26 241.10,193.21 241.19,188.28 241.28,194.84 241.37,187.75 241.46,185.93 241.55,177.65 241.64,189.12 241.73,191.32 241.82,188.31 241.91,191.15 242.00,194.05 242.09,185.42 242.18,189.48 242.26,191.00 242.35,193.90 242.44,180.87 242.53,183.13 242.62,188.02 242.71,180.45 242.80,185.36 242.89,192.25 242.98,183.25 243.07,181.92 243.16,185.83 243.25,191.73 243.34,180.48 243.43,177.62 243.52,185.55 243.61,178.12 243.70,187.78 243.79,187.45 243.88,180.53 243.97,183.40 244.06,174.83 244.15,181.74 244.24,180.00 244.33,180.39 244.42,179.50 244.51,176.42 244.60,177.76 244.69,177.46 244.78,172.83 244.87,174.53 244.96,169.24 245.05,168.48 245.14,175.01 245.23,176.57 245.32,174.33 245.41,168.05 245.50,170.46 245.59,169.94 245.68,177.27 245.77,180.00 245.86,180.36 245.95,189.26 246.04,178.44 246.13,181.56 246.22,183.30 246.31,179.23 246.40,184.56 246.49,173.47 246.58,186.83 246.67,178.47 246.76,184.13 246.85,185.13 246.94,178.36 247.03,187.82 247.12,176.88 247.21,171.67 247.30,169.55 247.39,168.91 247.48,168.58 247.57,169.28 247.66,167.68 247.75,162.54 247.84,165.65 247.93,168.38 248.02,171.18 248.11,158.59 248.20,163.44 248.29,156.74 248.38,167.94 248.47,171.53 248.56,162.97 248.65,168.84 248.74,169.61 248.83,156.85 248.92,165.72 249.01,155.55 249.10,164.71 249.19,160.16 249.28,161.05 249.37,167.15 249.46,160.00 249.55,166.19 249.64,164.20 249.73,163.75 249.82,162.15 249.91,170.74 250.00,167.01 250.09,153.02 250.18,159.95 250.27,157.18 250.36,164.16 250.45,166.29 250.54,162.51 250.63,160.72 250.72,157.08 250.81,150.69 250.90,167.58 250.99,160.73 251.08,152.91 251.17,150.07 251.26,147.32 251.35,149.09 251.44,150.53 251.53,141.21 251.62,146.37 251.71,154.06 251.80,149.05 251.89,147.88 251.98,150.96 252.07,140.68 252.16,143.83 252.25,143.57 252.34,144.06 252.43,135.04 252.52,139.22 252.61,143.07 252.70,149.70 252.79,146.33 252.88,141.59 252.97,138.56 253.06,144.79 253.15,150.22 253.24,140.84 253.33,143.19 253.42,140.00 253.51,142.58 253.60,136.90 253.69,146.70 253.78,144.00 253.87,142.93 253.96,144.09 254.05,141.71 254.14,140.36 254.23,150.37 254.32,135.57 254.41,144.85 254.49,144.09 254.58,140.81 254.67,155.96 254.76,154.10 254.85,149.47 254.94,144.70 255.03,139.35 255.12,140.88 255.21,154.18 255.30,145.23 255.39,148.02 255.48,144.06 255.57,151.70 255.66,143.86 255.75,155.93 255.84,144.82 255.93,155.66 256.02,152.58 256.11,157.36 256.20,151.27 256.29,156.31 256.38,155.79 256.47,155.79 256.56,149.69 256.65,155.09 256.74,154.11 256.83,153.77 256.92,151.08 257.01,150.45 257.10,155.59 257.19,147.49 257.28,159.40 257.37,155.83 257.46,164.84 257.55,152.21 257.64,165.12 257.73,161.03 257.82,156.21 257.91,160.41 258.00,162.58 258.09,169.60 258.18,167.24 258.27,158.56 258.36,165.49 258.45,158.50 258.54,163.93 258.63,166.69 258.72,174.58 258.81,171.66 258.90,167.15 258.99,165.23 259.08,162.70 259.17,163.37 259.26,165.96 259.35,169.17 259.44,162.59 259.53,160.18 259.62,168.24 259.71,169.08 259.80,168.07 259.89,161.51 259.98,157.06 260.07,159.53 260.16,166.68 260.25,161.88 260.34,165.76 260.43,166.43 260.52,169.70 260.61,166.58 260.70,162.07 260.79,160.10 260.88,162.06 260.97,167.52 261.06,168.90 261.15,176.70 261.24,172.14 261.33,169.64 261.42,169.13 261.51,174.57 261.60,174.25 261.69,178.67 261.78,183.30 261.87,173.90 261.96,183.44 262.05,183.06 262.14,170.67 262.23,169.88 262.32,168.94 262.41,172.23 262.50,172.52 262.59,168.71 262.68,169.15 262.77,178.72 262.86,162.23 262.95,165.87 263.04,163.37 263.13,165.40 263.22,168.06 263.31,166.33 263.40,168.21 263.49,174.67 263.58,170.00 263.67,168.17 263.76,163.81 263.85,166.74 263.94,168.66 264.03,174.82 264.12,159.42 264.21,170.19 264.30,168.15 264.39,171.09 264.48,173.22 264.57,151.05 264.66,157.83 264.75,155.28 264.84,162.50 264.93,163.35 265.02,156.27 265.11,167.00 265.20,165.20 265.29,164.36 265.38,165.16 265.47,158.59 265.56,159.27 265.65,167.06 265.74,153.58 265.83,154.16 265.92,159.33 266.01,171.45 266.10,161.29 266.19,156.03 266.28,166.21 266.37,167.86 266.46,164.25 266.55,171.72 266.64,162.53 266.73,160.78 266.81,160.36 266.90,154.37 266.99,160.05 267.08,159.20 267.17,157.69 267.26,157.36 267.35,159.75 267.44,160.01 267.53,159.12 267.62,161.77 267.71,158.47 267.80,157.23 267.89,156.69 267.98,161.95 268.07,171.41 268.16,164.19 268.25,153.43 268.34,158.01 268.43,165.03 268.52,165.07 268.61,166.23 268.70,164.04 268.79,160.83 268.88,159.60 268.97,159.82 269.06,168.02 269.15,166.41 269.24,163.01 269.33,165.22 269.42,163.00 269.51,171.03 269.60,159.71 269.69,170.17 269.78,167.13 269.87,173.51 269.96,174.52 270.05,174.09 270.14,169.08 270.23,175.66 270.32,166.01 270.41,170.26 270.50,160.98 270.59,160.83 270.68,163.73 270.77,167.42 270.86,165.78 270.95,169.38 271.04,165.76 271.13,164.70 271.22,163.51 271.31,158.74 271.40,164.40 271.49,167.56 271.58,165.64 271.67,173.81 271.76,169.57 271.85,169.95 271.94,159.12 272.03,163.27 272.12,150.44 272.21,167.63 272.30,158.01 272.39,156.18 272.48,157.16 272.57,166.71 272.66,161.28 272.75,164.44 272.84,170.36 272.93,172.51 273.02,170.02 273.11,172.64 273.20,172.52 273.29,171.91 273.38,170.40 273.47,175.73 273.56,175.24 273.65,177.60 273.74,170.21 273.83,177.37 273.92,179.29 274.01,182.29 274.10,181.38 274.19,173.79 274.28,177.79 274.37,180.57 274.46,173.41 274.55,180.97 274.64,181.15 274.73,179.12 274.82,172.77 274.91,179.70 275.00,173.07 275.09,176.80 275.18,180.39 275.27,174.49 275.36,170.99 275.45,175.36 275.54,172.01 275.63,177.83 275.72,184.60 275.81,173.97 275.90,181.54 275.99,175.00 276.08,177.47 276.17,173.56 276.26,174.31 276.35,184.27 276.44,175.06 276.53,178.54 276.62,168.75 276.71,174.00 276.80,178.73 276.89,182.15 276.98,169.57 277.07,183.29 277.16,180.40 277.25,178.09 277.34,186.34 277.43,186.87 277.52,193.84 277.61,188.85 277.70,180.27 277.79,180.84 277.88,188.61 277.97,175.20 278.06,186.41 278.15,186.25 278.24,170.75 278.33,175.45 278.42,182.41 278.51,177.92 278.60,180.55 278.69,181.82 278.78,186.34 278.87,183.16 278.96,185.15 279.04,177.34 279.13,180.80 279.22,181.16 279.31,187.10 279.40,187.52 279.49,179.67 279.58,183.57 279.67,182.80 279.76,180.11 279.85,182.08 279.94,183.65 280.03,186.87 280.12,196.13 280.21,182.66 280.30,176.80 280.39,176.50 280.48,184.18 280.57,182.77 280.66,181.05 280.75,179.86 280.84,182.56 280.93,187.03 281.02,184.24 281.11,183.86 281.20,184.23 281.29,183.82 281.38,181.67 281.47,191.79 281.56,182.18 281.65,186.19 281.74,190.19 281.83,180.54 281.92,182.81 282.01,175.07 282.10,185.76 282.19,181.40 282.28,181.10 282.37,185.04 282.46,187.08 282.55,178.77 282.64,184.05 282.73,185.77 282.82,186.24 282.91,180.66 283.00,176.69 283.09,184.86 283.18,181.40 283.27,180.22 283.36,184.71 283.45,188.30 283.54,185.56 283.63,187.31 283.72,177.44 283.81,190.85 283.90,184.40 283.99,183.93 284.08,183.02 284.17,190.14 284.26,187.38 284.35,186.11 284.44,189.82 284.53,187.97 284.62,192.92 284.71,184.52 284.80,185.58 284.89,184.49 284.98,189.33 285.07,189.53 285.16,192.18 285.25,189.48 285.34,186.46 285.43,176.05 285.52,194.66 285.61,192.84 285.70,196.07 285.79,195.11 285.88,188.73 285.97,188.32 286.06,191.40 286.15,195.62 286.24,178.69 286.33,179.27 286.42,190.10 286.51,190.77 286.60,188.97 286.69,186.34 286.78,189.40 286.87,184.23 286.96,191.08 287.05,173.89 287.14,183.77 287.23,182.06 287.32,172.62 287.41,179.55 287.50,182.53 287.59,185.50 287.68,183.16 287.77,187.16 287.86,186.69 287.95,185.46 288.04,192.92 288.13,190.60 288.22,189.95 288.31,180.94 288.40,187.25 288.49,190.34 288.58,190.32 288.67,189.82 288.76,203.99 288.85,193.48 288.94,198.93 289.03,194.91 289.12,192.36 289.21,184.26 289.30,186.35 289.39,190.88 289.48,186.38 289.57,189.32 289.66,187.66 289.75,192.81 289.84,181.93 289.93,180.71 290.02,190.71 290.11,192.44 290.20,190.53 290.29,188.53 290.38,191.63 290.47,183.84 290.56,191.58 290.65,184.48 290.74,179.98 290.83,184.97 290.92,184.87 291.01,187.68 291.10,188.29 291.19,196.91 291.27,189.20 291.36,184.15 291.45,183.58 291.54,183.36 291.63,184.50 291.72,186.74 291.81,188.28 291.90,180.29 291.99,184.20 292.08,187.60 292.17,186.10 292.26,182.28 292.35,185.45 292.44,186.65 292.53,184.00 292.62,184.23 292.71,184.87 292.80,175.54 292.89,186.11 292.98,175.35 293.07,184.40 293.16,184.46 293.25,177.78 293.34,186.83 293.43,184.61 293.52,187.64 293.61,190.91 293.70,185.88 293.79,180.41 293.88,186.56 293.97,176.60 294.06,184.15 294.15,171.92 294.24,180.99 294.33,182.07 294.42,176.83 294.51,177.90 294.60,178.80 294.69,185.46 294.78,175.60 294.87,180.19 294.96,184.87 295.05,193.30 295.14,185.83 295.23,179.82 295.32,187.15 295.41,184.31 295.50,181.47 295.59,189.05 295.68,182.64 295.77,185.17 295.86,179.48 295.95,184.76 296.04,183.57 296.13,181.96 296.22,187.41 296.31,194.76 296.40,185.23 296.49,186.37 296.58,183.63 296.67,187.11 296.76,176.66 296.85,191.01 296.94,182.72 297.03,180.93 297.12,176.93 297.21,177.03 297.30,180.65 297.39,179.09 297.48,183.47 297.57,174.73 297.66,173.62 297.75,173.52 297.84,180.20 297.93,179.06 298.02,176.50 298.11,173.98 298.20,183.70 298.29,182.74 298.38,178.95 298.47,178.03 298.56,181.47 298.65,181.87 298.74,186.35 298.83,182.18 298.92,178.55 299.01,185.21 299.10,174.60 299.19,182.51 299.28,179.50 299.37,189.82 299.46,183.06 299.55,182.24 299.64,184.27 299.73,181.39 299.82,187.19 299.91,184.03 300.00,190.90 300.09,189.50 300.18,177.96 300.27,183.82 300.36,184.35 300.45,189.39 300.54,194.38 300.63,181.16 300.72,180.33 300.81,181.89 300.90,185.84 300.99,178.32 301.08,186.16 301.17,181.10 301.26,180.11 301.35,182.82 301.44,174.54 301.53,179.82 301.62,174.48 301.71,190.01 301.80,188.89 301.89,189.47 301.98,188.74 302.07,180.37 302.16,182.48 302.25,180.70 302.34,178.22 302.43,180.17 302.52,179.47 302.61,179.56 302.70,183.92 302.79,178.81 302.88,182.86 302.97,180.85 303.06,173.97 303.15,180.13 303.24,175.18 303.33,179.23 303.42,178.26 303.51,172.33 303.59,176.39 303.68,181.13 303.77,178.47 303.86,174.76 303.95,181.61 304.04,170.44 304.13,174.91 304.22,180.28 304.31,176.53 304.40,164.19 304.49,166.25 304.58,157.90 304.67,170.80 304.76,165.67 304.85,155.72 304.94,157.19 305.03,171.95 305.12,169.87 305.21,176.37 305.30,176.58 305.39,177.89 305.48,174.27 305.57,180.54 305.66,177.90 305.75,167.63 305.84,173.59 305.93,177.12 306.02,184.85 306.11,176.53 306.20,187.08 306.29,182.20 306.38,175.73 306.47,172.93 306.56,176.32 306.65,172.91 306.74,176.96 306.83,178.56 306.92,177.98 307.01,168.35 307.10,182.31 307.19,181.96 307.28,183.41 307.37,187.85 307.46,184.84 307.55,189.28 307.64,181.56 307.73,180.55 307.82,183.79 307.91,182.17 308.00,176.96 308.09,179.24 308.18,178.74 308.27,174.54 308.36,173.76 308.45,174.35 308.54,175.06 308.63,175.25 308.72,178.95 308.81,178.79 308.90,178.70 308.99,173.09 309.08,182.61 309.17,180.10 309.26,174.99 309.35,172.40 309.44,179.13 309.53,179.06 309.62,181.00 309.71,180.50 309.80,170.97 309.89,182.12 309.98,180.05 310.07,183.64 310.16,177.82 310.25,181.10 310.34,179.88 310.43,185.80 310.52,184.74 310.61,174.38 310.70,177.34 310.79,177.99 310.88,174.65 310.97,178.87 311.06,172.65 311.15,181.58 311.24,185.71 311.33,182.28 311.42,181.56 311.51,169.53 311.60,176.42 311.69,174.10 311.78,170.28 311.87,180.40 311.96,186.50 312.05,181.43 312.14,180.11 312.23,185.93 312.32,175.01 312.41,176.54 312.50,170.47 312.59,177.20 312.68,180.06 312.77,182.67 312.86,184.84 312.95,188.27 313.04,180.88 313.13,191.20 313.22,188.60 313.31,179.37 313.40,190.25 313.49,188.40 313.58,194.04 313.67,200.93 313.76,193.52 313.85,195.07 313.94,192.55 314.03,192.98 314.12,192.77 314.21,197.50 314.30,195.39 314.39,193.60 314.48,198.94 314.57,198.37 314.66,195.54 314.75,197.74 314.84,199.89 314.93,202.52 315.02,197.41 315.11,191.02 315.20,201.67 315.29,195.90 315.38,201.33 315.47,200.62 315.56,200.35 315.65,203.04 315.74,204.00 315.82,205.32 315.91,190.81 316.00,201.08 316.09,206.21 316.18,201.14 316.27,196.42 316.36,187.80 316.45,189.56 316.54,197.48 316.63,194.28 316.72,203.36 316.81,199.35 316.90,191.00 316.99,194.61 317.08,196.88 317.17,198.22 317.26,197.57 317.35,193.76 317.44,199.59 317.53,194.69 317.62,201.43 317.71,197.34 317.80,199.48 317.89,203.72 317.98,189.70 318.07,190.78 318.16,196.01 318.25,203.42 318.34,196.32 318.43,195.84 318.52,198.65 318.61,199.59 318.70,189.82 318.79,205.63 318.88,194.72 318.97,200.95 319.06,202.44 319.15,196.81 319.24,205.43 319.33,201.82 319.42,200.45 319.51,194.28 319.60,191.84 319.69,192.97 319.78,196.77 319.87,185.66 319.96,193.62 320.05,191.28 320.14,198.05 320.23,190.44 320.32,185.49 320.41,188.39 320.50,184.19 320.59,180.30 320.68,182.56 320.77,191.41 320.86,196.36 320.95,197.80 321.04,190.15 321.13,194.61 321.22,186.52 321.31,195.72 321.40,180.65 321.49,185.30 321.58,191.83 321.67,183.54 321.76,180.53 321.85,181.47 321.94,183.82 322.03,182.17 322.12,184.61 322.21,187.49 322.30,184.50 322.39,191.99 322.48,179.53 322.57,189.91 322.66,183.52 322.75,186.93 322.84,182.06 322.93,185.05 323.02,193.27 323.11,187.40 323.20,187.27 323.29,179.11 323.38,180.10 323.47,184.17 323.56,185.58 323.65,187.92 323.74,178.84 323.83,173.99 323.92,183.37 324.01,178.80 324.10,179.17 324.19,180.82 324.28,176.06 324.37,179.74 324.46,183.09 324.55,171.23 324.64,178.32 324.73,181.85 324.82,173.41 324.91,177.78 325.00,174.71 325.09,180.15 325.18,169.01 325.27,168.22 325.36,172.59 325.45,176.00 325.54,176.28 325.63,182.29 325.72,180.49 325.81,182.98 325.90,183.87 325.99,187.04 326.08,179.40 326.17,181.72 326.26,177.88 326.35,179.67 326.44,182.52 326.53,190.09 326.62,184.30 326.71,195.74 326.80,187.33 326.89,186.98 326.98,184.96 327.07,177.71 327.16,188.34 327.25,194.66 327.34,190.33 327.43,192.69 327.52,183.30 327.61,187.40 327.70,187.10 327.79,187.99 327.88,183.45 327.97,178.85 328.05,178.71 328.14,174.13 328.23,184.63 328.32,189.87 328.41,187.08 328.50,189.02 328.59,178.32 328.68,190.32 328.77,177.35 328.86,184.92 328.95,184.00 329.04,187.25 329.13,183.29 329.22,176.02 329.31,182.28 329.40,180.13 329.49,178.42 329.58,175.80 329.67,177.59 329.76,175.10 329.85,179.31 329.94,180.25 330.03,181.48 330.12,178.38 330.21,183.55 330.30,180.62 330.39,185.69 330.48,186.15 330.57,179.91 330.66,182.50 330.75,181.45 330.84,183.82 330.93,179.54 331.02,171.29 331.11,177.41 331.20,176.23 331.29,179.47 331.38,171.76 331.47,177.51 331.56,166.40 331.65,180.18 331.74,183.56 331.83,176.97 331.92,187.48 332.01,185.70 332.10,185.18 332.19,179.59 332.28,166.15 332.37,177.78 332.46,159.36 332.55,164.96 332.64,160.44 332.73,167.53 332.82,178.21 332.91,176.06 333.00,163.07 333.09,173.94 333.18,171.38 333.27,171.19 333.36,165.00 333.45,168.39 333.54,173.49 333.63,172.11 333.72,164.37 333.81,173.15 333.90,169.81 333.99,172.60 334.08,170.56 334.17,174.49 334.26,165.56 334.35,171.73 334.44,163.08 334.53,169.42 334.62,166.83 334.71,168.86 334.80,165.68 334.89,164.86 334.98,176.08 335.07,175.97 335.16,180.33 335.25,182.68 335.34,182.04 335.43,172.79 335.52,181.52 335.61,180.97 335.70,175.00 335.79,180.26 335.88,185.06 335.97,186.38 336.06,180.35 336.15,182.88 336.24,175.22 336.33,179.38 336.42,178.00 336.51,171.24 336.60,167.41 336.69,168.98 336.78,174.80 336.87,167.21 336.96,171.28 337.05,163.06 337.14,168.10 337.23,165.18 337.32,159.64 337.41,163.18 337.50,169.01 337.59,173.48 337.68,170.09 337.77,175.81 337.86,163.50 337.95,169.16 338.04,165.60 338.13,168.92 338.22,171.05 338.31,165.33 338.40,163.86 338.49,164.55 338.58,165.96 338.67,164.40 338.76,169.49 338.85,166.30 338.94,172.13 339.03,173.44 339.12,168.98 339.21,177.65 339.30,175.30 339.39,170.65 339.48,167.71 339.57,174.78 339.66,186.26 339.75,176.44 339.84,177.03 339.93,175.98 340.02,176.24 340.11,167.78 340.20,167.86 340.28,175.11 340.37,181.14 340.46,170.88 340.55,179.06 340.64,177.19 340.73,168.50 340.82,175.10 340.91,172.77 341.00,165.74 341.09,169.22 341.18,165.80 341.27,170.02 341.36,168.25 341.45,167.06 341.54,172.08 341.63,168.77 341.72,167.30 341.81,174.71 341.90,177.19 341.99,176.31 342.08,168.93 342.17,174.70 342.26,179.86 342.35,181.59 342.44,180.00 342.53,180.26 342.62,173.12 342.71,180.55 342.80,179.74 342.89,171.47 342.98,177.39 343.07,180.10 343.16,184.92 343.25,176.91 343.34,176.96 343.43,177.19 343.52,175.57 343.61,173.96 343.70,175.66 343.79,171.40 343.88,168.04 343.97,172.77 344.06,168.11 344.15,166.73 344.24,161.01 344.33,167.26 344.42,168.88 344.51,166.91 344.60,171.20 344.69,180.77 344.78,181.51 344.87,179.41 344.96,176.65 345.05,175.92 345.14,179.12 345.23,186.10 345.32,186.19 345.41,183.49 345.50,186.64 345.59,186.07 345.68,182.45 345.77,190.68 345.86,179.72 345.95,188.48 346.04,184.15 346.13,180.95 346.22,190.68 346.31,176.87 346.40,190.01" fill="none" stroke="#0072BD" stroke-width="1.5" stroke-linejoin="round"/>
<polyline points="211.60,181.10 211.69,174.39 211.78,182.88 211.87,188.25 211.96,173.30 212.05,184.02 212.14,184.72 212.23,180.06 212.32,184.43 212.41,180.23 212.50,187.68 212.59,184.55 212.68,182.22 212.77,171.85 212.86,177.02 212.95,173.27 213.04,171.06 213.13,176.63 213.22,171.02 213.31,176.11 213.40,173.85 213.49,166.38 213.58,163.32 213.67,165.21 213.76,163.10 213.85,163.42 213.94,161.92 214.03,163.62 214.12,169.97 214.21,164.41 214.30,170.30 214.39,173.37 214.48,169.06 214.57,167.87 214.66,164.88 214.75,166.42 214.84,165.90 214.93,166.77 215.02,165.94 215.11,163.72 215.20,164.13 215.29,171.41 215.38,161.21 215.47,164.85 215.56,162.71 215.65,167.77 215.74,168.84 215.83,163.45 215.92,176.86 216.01,175.49 216.10,172.89 216.19,167.40 216.28,168.73 216.37,160.50 216.46,173.62 216.55,159.74 216.64,162.93 216.73,162.97 216.82,170.01 216.91,163.02 217.00,172.85 217.09,167.55 217.18,177.15 217.27,168.87 217.36,166.08 217.45,177.22 217.54,171.25 217.63,169.00 217.72,167.21 217.80,174.87 217.89,170.22 217.98,164.85 218.07,173.17 218.16,161.16 218.25,165.73 218.34,166.37 218.43,170.96 218.52,175.32 218.61,166.03 218.70,176.81 218.79,175.93 218.88,172.91 218.97,172.27 219.06,170.48 219.15,180.04 219.24,183.72 219.33,172.31 219.42,174.49 219.51,177.36 219.60,168.16 219.69,179.07 219.78,175.96 219.87,165.10 219.96,173.84 220.05,178.42 220.14,178.90 220.23,168.13 220.32,181.55 220.41,170.06 220.50,165.88 220.59,171.51 220.68,167.85 220.77,175.10 220.86,170.72 220.95,173.56 221.04,177.67 221.13,173.29 221.22,170.25 221.31,169.15 221.40,168.65 221.49,169.42 221.58,173.58 221.67,172.41 221.76,181.14 221.85,172.90 221.94,172.91 222.03,174.65 222.12,166.73 222.21,168.61 222.30,174.26 222.39,174.72 222.48,171.21 222.57,181.51 222.66,169.95 222.75,175.03 222.84,172.49 222.93,166.33 223.02,178.50 223.11,173.57 223.20,176.89 223.29,172.40 223.38,170.71 223.47,182.54 223.56,168.48 223.65,168.73 223.74,183.67 223.83,177.36 223.92,169.66 224.01,172.94 224.10,169.07 224.19,179.04 224.28,170.10 224.37,180.85 224.46,173.16 224.55,179.89 224.64,181.51 224.73,185.64 224.82,179.13 224.91,172.59 225.00,179.97 225.09,176.12 225.18,176.32 225.27,182.26 225.36,178.83 225.45,179.82 225.54,180.91 225.63,186.41 225.72,171.05 225.81,179.93 225.90,182.22 225.99,182.60 226.08,184.61 226.17,188.34 226.26,182.49 226.35,179.57 226.44,171.62 226.53,165.57 226.62,172.61 226.71,163.33 226.80,168.56 226.89,168.17 226.98,173.66 227.07,169.50 227.16,176.69 227.25,171.60 227.34,178.43 227.43,172.61 227.52,174.48 227.61,173.99 227.70,174.05 227.79,177.60 227.88,176.74 227.97,171.16 228.06,171.90 228.15,177.87 228.24,174.74 228.33,183.20 228.42,179.29 228.51,176.01 228.60,178.15 228.69,175.33 228.78,185.81 228.87,175.73 228.96,191.43 229.05,178.05 229.14,179.68 229.23,188.08 229.32,175.58 229.41,178.14 229.50,180.38 229.59,166.10 229.68,162.68 229.77,169.73 229.86,164.90 229.95,168.66 230.03,173.63 230.12,168.56 230.21,179.70 230.30,175.28 230.39,175.32 230.48,177.46 230.57,174.03 230.66,168.38 230.75,169.19 230.84,177.41 230.93,189.21 231.02,176.17 231.11,178.82 231.20,168.13 231.29,177.76 231.38,172.95 231.47,174.61 231.56,173.79 231.65,180.28 231.74,165.22 231.83,166.28 231.92,172.40 232.01,177.45 232.10,162.63 232.19,168.76 232.28,164.90 232.37,173.18 232.46,161.75 232.55,162.11 232.64,170.96 232.73,163.06 232.82,176.14 232.91,168.81 233.00,166.88 233.09,166.08 233.18,169.04 233.27,165.20 233.36,159.88 233.45,160.32 233.54,167.59 233.63,170.33 233.72,173.06 233.81,163.96 233.90,172.10 233.99,173.22 234.08,178.28 234.17,178.62 234.26,175.86 234.35,176.25 234.44,165.76 234.53,167.53 234.62,171.19 234.71,169.67 234.80,168.87 234.89,172.63 234.98,160.82 235.07,173.46 235.16,150.01 235.25,166.88 235.34,161.70 235.43,164.02 235.52,159.23 235.61,165.14 235.70,158.87 235.79,166.16 235.88,154.56 235.97,159.27 236.06,159.34 236.15,160.81 236.24,168.17 236.33,165.15 236.42,168.53 236.51,167.12 236.60,167.10 236.69,168.37 236.78,169.55 236.87,172.56 236.96,169.68 237.05,165.43 237.14,165.63 237.23,159.31 237.32,170.02 237.41,166.27 237.50,172.97 237.59,166.09 237.68,161.36 237.77,155.43 237.86,165.78 237.95,160.49 238.04,162.37 238.13,162.70 238.22,170.10 238.31,169.13 238.40,179.32 238.49,177.96 238.58,169.08 238.67,170.57 238.76,160.30 238.85,169.37 238.94,168.68 239.03,175.13 239.12,177.71 239.21,169.83 239.30,161.83 239.39,164.44 239.48,168.15 239.57,165.77 239.66,165.33 239.75,170.04 239.84,172.96 239.93,179.09 240.02,181.10 240.11,176.96 240.20,175.08 240.29,175.74 240.38,159.62 240.47,168.13 240.56,172.24 240.65,168.56 240.74,159.61 240.83,168.26 240.92,166.01 241.01,161.88 241.10,170.49 241.19,168.03 241.28,174.59 241.37,170.11 241.46,181.70 241.55,173.29 241.64,178.03 241.73,172.49 241.82,173.49 241.91,161.45 242.00,172.05 242.09,169.62 242.18,166.13 242.26,168.52 242.35,166.89 242.44,168.06 242.53,164.03 242.62,167.86 242.71,177.09 242.80,177.56 242.89,160.49 242.98,176.83 243.07,166.43 243.16,173.09 243.25,165.63 243.34,165.84 243.43,161.29 243.52,169.32 243.61,171.73 243.70,174.47 243.79,167.92 243.88,163.85 243.97,156.62 244.06,154.45 244.15,173.20 244.24,162.96 244.33,168.52 244.42,162.48 244.51,160.59 244.60,172.63 244.69,163.52 244.78,164.73 244.87,165.82 244.96,170.52 245.05,166.07 245.14,171.82 245.23,174.52 245.32,167.39 245.41,159.47 245.50,162.87 245.59,173.87 245.68,170.33 245.77,163.81 245.86,159.70 245.95,162.33 246.04,171.80 246.13,163.15 246.22,168.57 246.31,174.38 246.40,172.52 246.49,169.48 246.58,177.18 246.67,166.73 246.76,165.48 246.85,169.05 246.94,163.32 247.03,158.37 247.12,167.67 247.21,160.16 247.30,165.25 247.39,156.07 247.48,156.72 247.57,160.14 247.66,162.26 247.75,157.09 247.84,162.90 247.93,167.73 248.02,169.62 248.11,164.78 248.20,155.04 248.29,158.75 248.38,159.08 248.47,162.98 248.56,163.13 248.65,159.91 248.74,171.62 248.83,164.83 248.92,168.66 249.01,168.84 249.10,176.35 249.19,184.56 249.28,172.76 249.37,178.51 249.46,171.14 249.55,178.88 249.64,175.38 249.73,174.07 249.82,180.81 249.91,169.44 250.00,172.47 250.09,167.22 250.18,175.25 250.27,179.67 250.36,170.65 250.45,180.77 250.54,186.72 250.63,182.85 250.72,182.76 250.81,178.04 250.90,182.64 250.99,169.36 251.08,175.80 251.17,172.16 251.26,174.74 251.35,180.75 251.44,173.16 251.53,175.85 251.62,171.04 251.71,178.58 251.80,174.26 251.89,162.94 251.98,163.44 252.07,175.43 252.16,164.23 252.25,165.50 252.34,160.92 252.43,175.93 252.52,176.59 252.61,164.06 252.70,168.53 252.79,166.17 252.88,171.64 252.97,163.26 253.06,175.53 253.15,166.54 253.24,166.52 253.33,174.80 253.42,169.20 253.51,168.59 253.60,166.36 253.69,169.02 253.78,164.51 253.87,170.13 253.96,164.29 254.05,160.57 254.14,175.86 254.23,179.06 254.32,164.24 254.41,170.60 254.49,169.74 254.58,170.17 254.67,173.23 254.76,169.68 254.85,175.57 254.94,171.27 255.03,170.56 255.12,167.95 255.21,169.95 255.30,166.21 255.39,162.65 255.48,163.93 255.57,167.76 255.66,160.78 255.75,169.37 255.84,159.24 255.93,159.10 256.02,160.17 256.11,165.66 256.20,158.48 256.29,163.69 256.38,171.11 256.47,168.61 256.56,170.34 256.65,164.62 256.74,158.18 256.83,163.48 256.92,171.87 257.01,169.62 257.10,167.08 257.19,164.61 257.28,165.81 257.37,170.19 257.46,163.63 257.55,170.93 257.64,167.57 257.73,176.25 257.82,177.40 257.91,172.02 258.00,167.61 258.09,166.43 258.18,172.93 258.27,177.21 258.36,172.60 258.45,173.51 258.54,173.02 258.63,171.91 258.72,176.27 258.81,167.27 258.90,162.13 258.99,174.94 259.08,175.55 259.17,164.97 259.26,164.13 259.35,173.50 259.44,173.66 259.53,178.39 259.62,168.58 259.71,171.11 259.80,173.17 259.89,165.95 259.98,176.66 260.07,172.82 260.16,173.29 260.25,172.77 260.34,163.02 260.43,168.53 260.52,162.63 260.61,155.06 260.70,164.36 260.79,168.41 260.88,166.49 260.97,169.74 261.06,166.39 261.15,165.24 261.24,162.39 261.33,175.65 261.42,172.52 261.51,179.84 261.60,167.88 261.69,175.25 261.78,165.77 261.87,164.24 261.96,168.05 262.05,172.04 262.14,177.33 262.23,162.36 262.32,173.84 262.41,168.15 262.50,169.54 262.59,170.72 262.68,164.28 262.77,178.69 262.86,175.76 262.95,167.64 263.04,165.86 263.13,185.39 263.22,169.28 263.31,175.45 263.40,176.03 263.49,168.91 263.58,175.40 263.67,173.98 263.76,171.53 263.85,178.23 263.94,174.93 264.03,175.50 264.12,173.58 264.21,173.37 264.30,176.18 264.39,176.68 264.48,168.78 264.57,179.60 264.66,174.75 264.75,171.31 264.84,185.20 264.93,182.12 265.02,171.11 265.11,173.71 265.20,172.71 265.29,167.71 265.38,170.64 265.47,175.00 265.56,174.34 265.65,177.85 265.74,176.78 265.83,174.74 265.92,171.53 266.01,172.43 266.10,168.49 266.19,175.30 266.28,169.97 266.37,173.84 266.46,179.68 266.55,175.79 266.64,174.65 266.73,173.90 266.81,178.42 266.90,180.51 266.99,183.33 267.08,180.22 267.17,179.75 267.26,176.46 267.35,174.51 267.44,175.35 267.53,171.21 267.62,169.33 267.71,173.82 267.80,178.26 267.89,180.41 267.98,172.45 268.07,169.90 268.16,173.54 268.25,168.58 268.34,177.99 268.43,179.40 268.52,173.71 268.61,177.30 268.70,172.35 268.79,186.41 268.88,185.33 268.97,190.29 269.06,177.48 269.15,179.07 269.24,188.54 269.33,191.67 269.42,186.01 269.51,184.89 269.60,183.78 269.69,181.48 269.78,185.36 269.87,172.57 269.96,179.10 270.05,180.37 270.14,190.34 270.23,181.83 270.32,181.53 270.41,192.08 270.50,188.78 270.59,186.69 270.68,188.18 270.77,196.22 270.86,196.52 270.95,189.08 271.04,191.37 271.13,193.27 271.22,187.21 271.31,194.57 271.40,184.10 271.49,184.79 271.58,186.22 271.67,192.67 271.76,186.75 271.85,186.17 271.94,188.90 272.03,190.95 272.12,194.60 272.21,190.01 272.30,192.64 272.39,194.30 272.48,180.09 272.57,189.92 272.66,187.41 272.75,186.62 272.84,192.57 272.93,183.12 273.02,192.20 273.11,178.52 273.20,193.67 273.29,192.26 273.38,188.96 273.47,194.39 273.56,190.92 273.65,191.54 273.74,190.37 273.83,186.14 273.92,198.64 274.01,188.19 274.10,189.73 274.19,193.62 274.28,195.82 274.37,174.96 274.46,180.11 274.55,198.34 274.64,185.36 274.73,189.05 274.82,182.96 274.91,183.37 275.00,191.00 275.09,188.36 275.18,183.69 275.27,196.43 275.36,195.56 275.45,200.40 275.54,190.65 275.63,195.61 275.72,195.95 275.81,197.42 275.90,189.03 275.99,191.06 276.08,198.75 276.17,190.55 276.26,192.78 276.35,196.76 276.44,201.25 276.53,203.68 276.62,205.18 276.71,200.25 276.80,198.24 276.89,198.81 276.98,200.37 277.07,201.14 277.16,199.84 277.25,194.54 277.34,192.12 277.43,199.49 277.52,203.08 277.61,193.77 277.70,193.10 277.79,192.88 277.88,194.37 277.97,199.20 278.06,200.84 278.15,208.41 278.24,191.21 278.33,195.67 278.42,199.15 278.51,193.63 278.60,200.68 278.69,203.41 278.78,195.18 278.87,197.55 278.96,200.80 279.04,198.50 279.13,196.08 279.22,194.74 279.31,195.14 279.40,187.04 279.49,196.88 279.58,188.89 279.67,180.46 279.76,193.74 279.85,188.57 279.94,199.10 280.03,187.74 280.12,195.56 280.21,196.94 280.30,191.98 280.39,191.36 280.48,198.52 280.57,206.67 280.66,209.08 280.75,206.51 280.84,194.11 280.93,198.63 281.02,208.28 281.11,200.23 281.20,205.15 281.29,198.25 281.38,198.40 281.47,197.60 281.56,193.51 281.65,198.17 281.74,200.40 281.83,197.38 281.92,189.60 282.01,199.00 282.10,196.20 282.19,200.52 282.28,198.74 282.37,193.30 282.46,194.18 282.55,196.98 282.64,197.17 282.73,184.45 282.82,187.55 282.91,187.68 283.00,178.86 283.09,184.50 283.18,184.08 283.27,177.29 283.36,184.62 283.45,185.60 283.54,186.93 283.63,184.26 283.72,187.23 283.81,176.46 283.90,184.48 283.99,184.13 284.08,182.23 284.17,187.24 284.26,185.75 284.35,177.56 284.44,173.97 284.53,170.18 284.62,170.95 284.71,172.16 284.80,170.20 284.89,176.73 284.98,160.96 285.07,176.70 285.16,170.11 285.25,163.60 285.34,168.86 285.43,165.21 285.52,154.00 285.61,163.43 285.70,149.20 285.79,154.87 285.88,157.06 285.97,147.77 286.06,151.78 286.15,152.87 286.24,155.70 286.33,158.03 286.42,162.25 286.51,154.19 286.60,159.24 286.69,159.88 286.78,164.56 286.87,160.50 286.96,167.44 287.05,165.54 287.14,168.04 287.23,172.40 287.32,155.03 287.41,162.31 287.50,151.41 287.59,157.09 287.68,158.04 287.77,165.08 287.86,163.09 287.95,159.80 288.04,165.24 288.13,160.10 288.22,158.28 288.31,156.82 288.40,156.50 288.49,163.97 288.58,144.42 288.67,151.08 288.76,157.90 288.85,161.16 288.94,159.69 289.03,162.56 289.12,157.53 289.21,161.53 289.30,161.84 289.39,161.27 289.48,159.86 289.57,167.82 289.66,159.08 289.75,158.54 289.84,162.30 289.93,166.21 290.02,158.89 290.11,168.43 290.20,168.18 290.29,164.06 290.38,160.01 290.47,166.41 290.56,162.26 290.65,158.57 290.74,173.87 290.83,169.18 290.92,167.82 291.01,166.15 291.10,177.12 291.19,179.80 291.27,168.87 291.36,169.41 291.45,172.22 291.54,169.80 291.63,167.13 291.72,173.53 291.81,185.37 291.90,177.47 291.99,175.13 292.08,184.44 292.17,177.52 292.26,183.04 292.35,185.36 292.44,177.07 292.53,184.01 292.62,170.07 292.71,175.32 292.80,170.24 292.89,182.43 292.98,174.06 293.07,171.06 293.16,175.76 293.25,172.23 293.34,172.29 293.43,174.77 293.52,172.50 293.61,167.34 293.70,182.40 293.79,183.47 293.88,177.07 293.97,172.46 294.06,172.39 294.15,174.27 294.24,173.98 294.33,171.43 294.42,167.76 294.51,181.27 294.60,176.62 294.69,174.54 294.78,162.67 294.87,174.73 294.96,167.79 295.05,166.76 295.14,168.21 295.23,164.73 295.32,168.82 295.41,172.99 295.50,173.83 295.59,172.68 295.68,176.58 295.77,175.20 295.86,173.14 295.95,179.60 296.04,172.23 296.13,177.41 296.22,177.78 296.31,182.12 296.40,184.61 296.49,176.05 296.58,176.93 296.67,184.31 296.76,187.76 296.85,184.19 296.94,181.33 297.03,176.14 297.12,186.49 297.21,187.50 297.30,181.43 297.39,184.16 297.48,185.10 297.57,190.25 297.66,178.25 297.75,174.54 297.84,181.48 297.93,182.96 298.02,178.69 298.11,180.08 298.20,175.77 298.29,175.68 298.38,182.96 298.47,177.00 298.56,178.19 298.65,182.09 298.74,178.19 298.83,188.08 298.92,178.77 299.01,183.09 299.10,176.65 299.19,173.93 299.28,185.19 299.37,171.73 299.46,170.76 299.55,173.60 299.64,169.49 299.73,177.08 299.82,163.12 299.91,172.92 300.00,178.91 300.09,177.56 300.18,179.44 300.27,169.60 300.36,167.77 300.45,167.14 300.54,168.18 300.63,170.00 300.72,171.46 300.81,174.89 300.90,169.64 300.99,173.00 301.08,171.52 301.17,166.98 301.26,165.72 301.35,174.48 301.44,170.98 301.53,171.71 301.62,159.39 301.71,169.86 301.80,167.13 301.89,157.29 301.98,157.87 302.07,148.66 302.16,155.05 302.25,156.20 302.34,164.41 302.43,149.84 302.52,149.89 302.61,150.18 302.70,155.75 302.79,152.04 302.88,150.47 302.97,155.04 303.06,156.04 303.15,155.06 303.24,150.09 303.33,153.82 303.42,163.35 303.51,164.81 303.59,158.06 303.68,157.84 303.77,153.19 303.86,160.20 303.95,164.21 304.04,163.00 304.13,158.48 304.22,162.27 304.31,162.50 304.40,146.69 304.49,164.87 304.58,145.50 304.67,138.32 304.76,152.38 304.85,155.22 304.94,147.86 305.03,155.27 305.12,149.71 305.21,145.08 305.30,151.63 305.39,143.96 305.48,151.12 305.57,150.59 305.66,145.53 305.75,155.20 305.84,151.89 305.93,146.45 306.02,148.63 306.11,150.63 306.20,151.24 306.29,147.71 306.38,150.21 306.47,151.90 306.56,147.51 306.65,145.79 306.74,145.50 306.83,153.35 306.92,139.19 307.01,133.98 307.10,142.05 307.19,145.50 307.28,144.24 307.37,140.01 307.46,145.14 307.55,134.70 307.64,146.32 307.73,141.84 307.82,143.89 307.91,135.05 308.00,145.26 308.09,145.95 308.18,153.83 308.27,154.35 308.36,156.26 308.45,135.80 308.54,152.93 308.63,155.99 308.72,153.33 308.81,152.89 308.90,154.21 308.99,160.90 309.08,148.72 309.17,154.50 309.26,153.49 309.35,147.00 309.44,153.27 309.53,157.27 309.62,155.81 309.71,150.50 309.80,151.11 309.89,150.27 309.98,152.75 310.07,146.80 310.16,152.36 310.25,154.69 310.34,148.60 310.43,152.98 310.52,155.67 310.61,148.29 310.70,144.63 310.79,161.47 310.88,148.75 310.97,153.07 311.06,154.20 311.15,144.93 311.24,145.24 311.33,153.48 311.42,147.09 311.51,151.02 311.60,149.04 311.69,154.62 311.78,148.00 311.87,151.73 311.96,157.01 312.05,159.20 312.14,155.37 312.23,162.35 312.32,163.32 312.41,150.78 312.50,159.91 312.59,167.20 312.68,163.95 312.77,157.25 312.86,161.65 312.95,166.20 313.04,163.90 313.13,161.78 313.22,164.70 313.31,163.37 313.40,155.53 313.49,147.26 313.58,157.06 313.67,159.93 313.76,168.41 313.85,166.36 313.94,173.68 314.03,169.74 314.12,176.01 314.21,164.21 314.30,160.09 314.39,163.15 314.48,158.90 314.57,175.22 314.66,165.34 314.75,168.27 314.84,168.79 314.93,174.61 315.02,170.18 315.11,171.37 315.20,175.04 315.29,166.00 315.38,170.50 315.47,172.57 315.56,180.53 315.65,179.88 315.74,186.77 315.82,174.20 315.91,172.96 316.00,175.65 316.09,180.36 316.18,176.69 316.27,170.67 316.36,166.65 316.45,169.41 316.54,164.99 316.63,165.21 316.72,172.31 316.81,169.65 316.90,173.42 316.99,180.00 317.08,175.15 317.17,174.55 317.26,169.98 317.35,177.67 317.44,176.38 317.53,176.41 317.62,175.63 317.71,179.32 317.80,173.51 317.89,174.78 317.98,171.56 318.07,170.62 318.16,177.04 318.25,180.67 318.34,185.62 318.43,185.15 318.52,185.01 318.61,181.42 318.70,187.95 318.79,189.08 318.88,191.67 318.97,187.93 319.06,183.24 319.15,180.93 319.24,182.85 319.33,183.11 319.42,184.30 319.51,184.14 319.60,188.95 319.69,189.34 319.78,187.39 319.87,189.60 319.96,186.24 320.05,192.40 320.14,186.71 320.23,187.22 320.32,173.97 320.41,185.95 320.50,179.32 320.59,192.69 320.68,185.80 320.77,188.20 320.86,182.88 320.95,186.40 321.04,188.80 321.13,177.64 321.22,181.82 321.31,188.41 321.40,182.98 321.49,191.03 321.58,180.77 321.67,185.75 321.76,182.08 321.85,184.82 321.94,173.49 322.03,182.16 322.12,180.69 322.21,188.39 322.30,185.76 322.39,192.02 322.48,182.71 322.57,182.57 322.66,188.75 322.75,180.35 322.84,188.46 322.93,187.87 323.02,188.94 323.11,185.77 323.20,194.31 323.29,193.89 323.38,187.40 323.47,187.55 323.56,186.11 323.65,188.98 323.74,189.17 323.83,187.71 323.92,190.26 324.01,191.39 324.10,193.27 324.19,198.33 324.28,195.82 324.37,207.28 324.46,195.07 324.55,198.43 324.64,207.55 324.73,201.62 324.82,195.07 324.91,185.77 325.00,188.24 325.09,184.09 325.18,181.69 325.27,183.00 325.36,191.92 325.45,190.37 325.54,186.04 325.63,178.52 325.72,175.11 325.81,179.71 325.90,174.48 325.99,179.23 326.08,178.52 326.17,174.04 326.26,178.70 326.35,184.34 326.44,184.61 326.53,182.53 326.62,178.80 326.71,179.84 326.80,188.34 326.89,184.48 326.98,184.21 327.07,193.05 327.16,185.78 327.25,189.41 327.34,187.15 327.43,183.36 327.52,190.49 327.61,182.71 327.70,174.23 327.79,171.96 327.88,179.34 327.97,182.63 328.05,173.16 328.14,177.09 328.23,175.34 328.32,182.45 328.41,173.04 328.50,177.49 328.59,174.66 328.68,168.20 328.77,170.61 328.86,167.74 328.95,172.00 329.04,169.12 329.13,171.18 329.22,163.22 329.31,173.13 329.40,178.44 329.49,173.23 329.58,164.63 329.67,173.02 329.76,170.38 329.85,171.67 329.94,170.51 330.03,174.63 330.12,176.27 330.21,175.41 330.30,168.89 330.39,164.23 330.48,170.86 330.57,179.02 330.66,184.48 330.75,183.06 330.84,177.07 330.93,179.63 331.02,172.23 331.11,175.76 331.20,163.22 331.29,170.23 331.38,162.36 331.47,169.62 331.56,159.34 331.65,179.36 331.74,169.59 331.83,163.36 331.92,169.47 332.01,159.79 332.10,161.58 332.19,152.05 332.28,157.05 332.37,145.70 332.46,161.80 332.55,151.28 332.64,156.93 332.73,157.94 332.82,150.16 332.91,152.96 333.00,155.46 333.09,149.02 333.18,156.66 333.27,153.03 333.36,146.55 333.45,156.14 333.54,147.17 333.63,156.59 333.72,152.47 333.81,154.32 333.90,158.61 333.99,149.20 334.08,153.42 334.17,137.12 334.26,139.23 334.35,148.60 334.44,150.75 334.53,153.37 334.62,160.65 334.71,159.39 334.80,160.25 334.89,158.29 334.98,151.61 335.07,160.01 335.16,159.58 335.25,151.32 335.34,146.74 335.43,154.00 335.52,148.04 335.61,155.33 335.70,154.89 335.79,163.59 335.88,157.94 335.97,145.07 336.06,150.22 336.15,148.83 336.24,141.93 336.33,136.70 336.42,138.19 336.51,141.94 336.60,147.08 336.69,143.18 336.78,142.82 336.87,144.78 336.96,145.86 337.05,144.21 337.14,140.06 337.23,147.04 337.32,147.84 337.41,149.81 337.50,150.60 337.59,147.87 337.68,143.99 337.77,150.92 337.86,149.42 337.95,140.37 338.04,148.95 338.13,141.06 338.22,148.74 338.31,157.88 338.40,144.75 338.49,141.08 338.58,142.34 338.67,141.21 338.76,134.26 338.85,144.77 338.94,152.23 339.03,150.19 339.12,147.24 339.21,148.93 339.30,149.07 339.39,148.49 339.48,154.46 339.57,153.10 339.66,155.02 339.75,153.08 339.84,158.21 339.93,145.33 340.02,153.51 340.11,142.62 340.20,144.27 340.28,142.76 340.37,138.87 340.46,145.76 340.55,137.87 340.64,141.56 340.73,149.97 340.82,141.32 340.91,152.37 341.00,146.62 341.09,151.43 341.18,147.64 341.27,138.94 341.36,144.34 341.45,146.78 341.54,139.90 341.63,149.59 341.72,140.84 341.81,147.37 341.90,139.74 341.99,144.04 342.08,139.11 342.17,151.55 342.26,150.85 342.35,148.31 342.44,156.76 342.53,151.94 342.62,155.36 342.71,160.58 342.80,159.45 342.89,156.94 342.98,156.69 343.07,165.88 343.16,162.49 343.25,169.74 343.34,157.56 343.43,152.80 343.52,160.58 343.61,165.04 343.70,159.97 343.79,165.33 343.88,154.55 343.97,160.45 344.06,176.02 344.15,165.40 344.24,162.11 344.33,160.81 344.42,164.56 344.51,168.91 344.60,162.34 344.69,165.09 344.78,153.46 344.87,158.65 344.96,156.28 345.05,165.39 345.14,163.13 345.23,164.78 345.32,172.98 345.41,172.23 345.50,173.47 345.59,167.68 345.68,172.39 345.77,169.29 345.86,170.70 345.95,172.30 346.04,174.40 346.13,165.57 346.22,168.03 346.31,173.54 346.40,167.92" fill="none" stroke="#D95319" stroke-width="1.5" stroke-linejoin="round"/>
<path d="M211.6,220.6 H346.4" fill="none" stroke="#262626" stroke-width="0.8"/>
<path d="M211.7,131.0 V220.9" fill="none" stroke="#111" stroke-width="1.3"/>
<line x1="211.60" y1="220.6" x2="211.60" y2="219.0" stroke="#262626" stroke-width="0.7"/>
<text x="211.60" y="232.4" font-size="8.6" text-anchor="middle" fill="#262626">1000</text>
<line x1="245.30" y1="220.6" x2="245.30" y2="219.0" stroke="#262626" stroke-width="0.7"/>
<text x="245.30" y="232.4" font-size="8.6" text-anchor="middle" fill="#262626">2000</text>
<line x1="279.00" y1="220.6" x2="279.00" y2="219.0" stroke="#262626" stroke-width="0.7"/>
<text x="279.00" y="232.4" font-size="8.6" text-anchor="middle" fill="#262626">3000</text>
<line x1="312.70" y1="220.6" x2="312.70" y2="219.0" stroke="#262626" stroke-width="0.7"/>
<text x="312.70" y="232.4" font-size="8.6" text-anchor="middle" fill="#262626">4000</text>
<line x1="346.40" y1="220.6" x2="346.40" y2="219.0" stroke="#262626" stroke-width="0.7"/>
<text x="346.40" y="232.4" font-size="8.6" text-anchor="middle" fill="#262626">5000</text>
<line x1="211.6" y1="220.60" x2="213.2" y2="220.60" stroke="#262626" stroke-width="0.7"/>
<text x="209" y="223.60" font-size="8.6" text-anchor="end" fill="#262626">-2</text>
<line x1="211.6" y1="199.35" x2="213.2" y2="199.35" stroke="#262626" stroke-width="0.7"/>
<text x="209" y="202.35" font-size="8.6" text-anchor="end" fill="#262626">-1</text>
<line x1="211.6" y1="178.10" x2="213.2" y2="178.10" stroke="#262626" stroke-width="0.7"/>
<text x="209" y="181.10" font-size="8.6" text-anchor="end" fill="#262626">0</text>
<line x1="211.6" y1="156.85" x2="213.2" y2="156.85" stroke="#262626" stroke-width="0.7"/>
<text x="209" y="159.85" font-size="8.6" text-anchor="end" fill="#262626">1</text>
<line x1="211.6" y1="135.60" x2="213.2" y2="135.60" stroke="#262626" stroke-width="0.7"/>
<text x="209" y="138.60" font-size="8.6" text-anchor="end" fill="#262626">2</text>
<text font-size="8.6" fill="#262626"><tspan x="212.2" y="130.1" font-size="10">×</tspan><tspan x="218.9" y="128.6">10</tspan><tspan x="228.2" y="125" font-size="7.2">-8</tspan></text>
</g>
<g>
<line x1="482.60" y1="20.4" x2="482.60" y2="266.4" stroke="#C4C4C4" stroke-width="0.7" stroke-dasharray="0.9,1.5"/>
<line x1="491.90" y1="20.4" x2="491.90" y2="266.4" stroke="#C4C4C4" stroke-width="0.7" stroke-dasharray="0.9,1.5"/>
<line x1="498.50" y1="20.4" x2="498.50" y2="266.4" stroke="#C4C4C4" stroke-width="0.7" stroke-dasharray="0.9,1.5"/>
<line x1="503.62" y1="20.4" x2="503.62" y2="266.4" stroke="#C4C4C4" stroke-width="0.7" stroke-dasharray="0.9,1.5"/>
<line x1="507.80" y1="20.4" x2="507.80" y2="266.4" stroke="#C4C4C4" stroke-width="0.7" stroke-dasharray="0.9,1.5"/>
<line x1="511.34" y1="20.4" x2="511.34" y2="266.4" stroke="#C4C4C4" stroke-width="0.7" stroke-dasharray="0.9,1.5"/>
<line x1="514.40" y1="20.4" x2="514.40" y2="266.4" stroke="#C4C4C4" stroke-width="0.7" stroke-dasharray="0.9,1.5"/>
<line x1="517.10" y1="20.4" x2="517.10" y2="266.4" stroke="#C4C4C4" stroke-width="0.7" stroke-dasharray="0.9,1.5"/>
<line x1="519.52" y1="20.4" x2="519.52" y2="266.4" stroke="#C4C4C4" stroke-width="0.7" stroke-dasharray="0.9,1.5"/>
<line x1="535.42" y1="20.4" x2="535.42" y2="266.4" stroke="#C4C4C4" stroke-width="0.7" stroke-dasharray="0.9,1.5"/>
<line x1="544.72" y1="20.4" x2="544.72" y2="266.4" stroke="#C4C4C4" stroke-width="0.7" stroke-dasharray="0.9,1.5"/>
<line x1="551.32" y1="20.4" x2="551.32" y2="266.4" stroke="#C4C4C4" stroke-width="0.7" stroke-dasharray="0.9,1.5"/>
<line x1="556.43" y1="20.4" x2="556.43" y2="266.4" stroke="#C4C4C4" stroke-width="0.7" stroke-dasharray="0.9,1.5"/>
<line x1="560.62" y1="20.4" x2="560.62" y2="266.4" stroke="#C4C4C4" stroke-width="0.7" stroke-dasharray="0.9,1.5"/>
<line x1="564.15" y1="20.4" x2="564.15" y2="266.4" stroke="#C4C4C4" stroke-width="0.7" stroke-dasharray="0.9,1.5"/>
<line x1="567.21" y1="20.4" x2="567.21" y2="266.4" stroke="#C4C4C4" stroke-width="0.7" stroke-dasharray="0.9,1.5"/>
<line x1="569.92" y1="20.4" x2="569.92" y2="266.4" stroke="#C4C4C4" stroke-width="0.7" stroke-dasharray="0.9,1.5"/>
<line x1="588.23" y1="20.4" x2="588.23" y2="266.4" stroke="#C4C4C4" stroke-width="0.7" stroke-dasharray="0.9,1.5"/>
<line x1="597.53" y1="20.4" x2="597.53" y2="266.4" stroke="#C4C4C4" stroke-width="0.7" stroke-dasharray="0.9,1.5"/>
<line x1="604.13" y1="20.4" x2="604.13" y2="266.4" stroke="#C4C4C4" stroke-width="0.7" stroke-dasharray="0.9,1.5"/>
<line x1="609.25" y1="20.4" x2="609.25" y2="266.4" stroke="#C4C4C4" stroke-width="0.7" stroke-dasharray="0.9,1.5"/>
<line x1="613.43" y1="20.4" x2="613.43" y2="266.4" stroke="#C4C4C4" stroke-width="0.7" stroke-dasharray="0.9,1.5"/>
<line x1="616.97" y1="20.4" x2="616.97" y2="266.4" stroke="#C4C4C4" stroke-width="0.7" stroke-dasharray="0.9,1.5"/>
<line x1="620.03" y1="20.4" x2="620.03" y2="266.4" stroke="#C4C4C4" stroke-width="0.7" stroke-dasharray="0.9,1.5"/>
<line x1="622.73" y1="20.4" x2="622.73" y2="266.4" stroke="#C4C4C4" stroke-width="0.7" stroke-dasharray="0.9,1.5"/>
<line x1="625.15" y1="20.4" x2="625.15" y2="266.4" stroke="#C4C4C4" stroke-width="0.7" stroke-dasharray="0.9,1.5"/>
<line x1="641.05" y1="20.4" x2="641.05" y2="266.4" stroke="#C4C4C4" stroke-width="0.7" stroke-dasharray="0.9,1.5"/>
<line x1="650.35" y1="20.4" x2="650.35" y2="266.4" stroke="#C4C4C4" stroke-width="0.7" stroke-dasharray="0.9,1.5"/>
<line x1="656.95" y1="20.4" x2="656.95" y2="266.4" stroke="#C4C4C4" stroke-width="0.7" stroke-dasharray="0.9,1.5"/>
<line x1="662.07" y1="20.4" x2="662.07" y2="266.4" stroke="#C4C4C4" stroke-width="0.7" stroke-dasharray="0.9,1.5"/>
<line x1="666.25" y1="20.4" x2="666.25" y2="266.4" stroke="#C4C4C4" stroke-width="0.7" stroke-dasharray="0.9,1.5"/>
<line x1="669.79" y1="20.4" x2="669.79" y2="266.4" stroke="#C4C4C4" stroke-width="0.7" stroke-dasharray="0.9,1.5"/>
<line x1="672.85" y1="20.4" x2="672.85" y2="266.4" stroke="#C4C4C4" stroke-width="0.7" stroke-dasharray="0.9,1.5"/>
<line x1="675.55" y1="20.4" x2="675.55" y2="266.4" stroke="#C4C4C4" stroke-width="0.7" stroke-dasharray="0.9,1.5"/>
<line x1="693.87" y1="20.4" x2="693.87" y2="266.4" stroke="#C4C4C4" stroke-width="0.7" stroke-dasharray="0.9,1.5"/>
<line x1="703.17" y1="20.4" x2="703.17" y2="266.4" stroke="#C4C4C4" stroke-width="0.7" stroke-dasharray="0.9,1.5"/>
<line x1="709.77" y1="20.4" x2="709.77" y2="266.4" stroke="#C4C4C4" stroke-width="0.7" stroke-dasharray="0.9,1.5"/>
<line x1="714.88" y1="20.4" x2="714.88" y2="266.4" stroke="#C4C4C4" stroke-width="0.7" stroke-dasharray="0.9,1.5"/>
<line x1="719.07" y1="20.4" x2="719.07" y2="266.4" stroke="#C4C4C4" stroke-width="0.7" stroke-dasharray="0.9,1.5"/>
<line x1="722.60" y1="20.4" x2="722.60" y2="266.4" stroke="#C4C4C4" stroke-width="0.7" stroke-dasharray="0.9,1.5"/>
<line x1="725.66" y1="20.4" x2="725.66" y2="266.4" stroke="#C4C4C4" stroke-width="0.7" stroke-dasharray="0.9,1.5"/>
<line x1="728.37" y1="20.4" x2="728.37" y2="266.4" stroke="#C4C4C4" stroke-width="0.7" stroke-dasharray="0.9,1.5"/>
<line x1="730.78" y1="20.4" x2="730.78" y2="266.4" stroke="#C4C4C4" stroke-width="0.7" stroke-dasharray="0.9,1.5"/>
<line x1="746.68" y1="20.4" x2="746.68" y2="266.4" stroke="#C4C4C4" stroke-width="0.7" stroke-dasharray="0.9,1.5"/>
<line x1="755.98" y1="20.4" x2="755.98" y2="266.4" stroke="#C4C4C4" stroke-width="0.7" stroke-dasharray="0.9,1.5"/>
<line x1="762.58" y1="20.4" x2="762.58" y2="266.4" stroke="#C4C4C4" stroke-width="0.7" stroke-dasharray="0.9,1.5"/>
<line x1="767.70" y1="20.4" x2="767.70" y2="266.4" stroke="#C4C4C4" stroke-width="0.7" stroke-dasharray="0.9,1.5"/>
<line x1="771.88" y1="20.4" x2="771.88" y2="266.4" stroke="#C4C4C4" stroke-width="0.7" stroke-dasharray="0.9,1.5"/>
<line x1="775.42" y1="20.4" x2="775.42" y2="266.4" stroke="#C4C4C4" stroke-width="0.7" stroke-dasharray="0.9,1.5"/>
<line x1="778.48" y1="20.4" x2="778.48" y2="266.4" stroke="#C4C4C4" stroke-width="0.7" stroke-dasharray="0.9,1.5"/>
<line x1="781.18" y1="20.4" x2="781.18" y2="266.4" stroke="#C4C4C4" stroke-width="0.7" stroke-dasharray="0.9,1.5"/>
<line x1="572.33" y1="20.4" x2="572.33" y2="266.4" stroke="#DFDFDF" stroke-width="0.8"/>
<line x1="677.97" y1="20.4" x2="677.97" y2="266.4" stroke="#DFDFDF" stroke-width="0.8"/>
<line x1="466.7" y1="261.60" x2="783.6" y2="261.60" stroke="#C4C4C4" stroke-width="0.7" stroke-dasharray="0.9,1.5"/>
<line x1="466.7" y1="241.50" x2="783.6" y2="241.50" stroke="#C4C4C4" stroke-width="0.7" stroke-dasharray="0.9,1.5"/>
<line x1="466.7" y1="221.40" x2="783.6" y2="221.40" stroke="#DFDFDF" stroke-width="0.8"/>
<line x1="466.7" y1="201.30" x2="783.6" y2="201.30" stroke="#C4C4C4" stroke-width="0.7" stroke-dasharray="0.9,1.5"/>
<line x1="466.7" y1="181.20" x2="783.6" y2="181.20" stroke="#C4C4C4" stroke-width="0.7" stroke-dasharray="0.9,1.5"/>
<line x1="466.7" y1="161.10" x2="783.6" y2="161.10" stroke="#C4C4C4" stroke-width="0.7" stroke-dasharray="0.9,1.5"/>
<line x1="466.7" y1="141.00" x2="783.6" y2="141.00" stroke="#C4C4C4" stroke-width="0.7" stroke-dasharray="0.9,1.5"/>
<line x1="466.7" y1="120.90" x2="783.6" y2="120.90" stroke="#DFDFDF" stroke-width="0.8"/>
<line x1="466.7" y1="100.80" x2="783.6" y2="100.80" stroke="#C4C4C4" stroke-width="0.7" stroke-dasharray="0.9,1.5"/>
<line x1="466.7" y1="80.70" x2="783.6" y2="80.70" stroke="#C4C4C4" stroke-width="0.7" stroke-dasharray="0.9,1.5"/>
<line x1="466.7" y1="60.60" x2="783.6" y2="60.60" stroke="#C4C4C4" stroke-width="0.7" stroke-dasharray="0.9,1.5"/>
<line x1="466.7" y1="40.50" x2="783.6" y2="40.50" stroke="#C4C4C4" stroke-width="0.7" stroke-dasharray="0.9,1.5"/>
<clipPath id="cb"><rect x="466.7" y="20.4" width="316.90000000000003" height="245.99999999999997"/></clipPath>
<g clip-path="url(#cb)">
<polyline points="487.50,56.90 502.50,54.00 513.10,56.00 519.80,66.90 523.80,57.50 528.80,62.50 535.00,61.50 538.00,73.80 541.90,62.80 545.00,72.00 547.50,65.00 550.00,75.00 553.00,77.80 556.00,70.30 560.00,70.00 562.50,71.30 566.90,83.80 570.00,75.60 572.50,81.30 575.00,74.40 580.00,81.30 585.00,78.10 588.80,81.90 592.50,88.10 597.50,83.80 600.00,91.30 602.50,87.00 605.00,89.50 606.20,88.78 607.37,92.43 608.51,89.89 609.62,93.74 610.71,92.33 611.76,93.47 612.80,94.71 613.80,94.15 614.78,93.70 615.74,93.76 616.67,93.81 617.58,97.15 618.46,96.35 619.33,95.63 620.17,99.12 620.99,97.04 621.79,98.06 622.57,98.00 623.33,99.73 624.07,99.90 624.79,100.33 625.50,99.35 626.19,99.77 626.87,99.98 627.54,100.61 628.20,100.21 628.84,100.62 629.48,104.05 630.11,104.33 630.72,101.61 631.33,101.25 631.92,102.21 632.50,104.37 633.08,104.92 633.64,102.29 634.20,104.64 634.75,102.71 635.28,104.88 635.81,105.58 636.33,107.10 636.84,104.61 637.35,106.86 637.84,107.35 638.33,107.78 638.80,104.63 639.27,106.59 639.74,108.70 640.19,106.79 640.64,108.53 641.09,107.79 641.54,108.83 641.99,108.02 642.44,106.61 642.88,107.04 643.33,107.36 643.78,108.09 644.23,110.86 644.67,109.90 645.12,110.80 645.56,110.19 646.01,110.72 646.46,111.63 646.90,112.31 647.34,112.54 647.79,112.51 648.23,110.26 648.67,111.47 649.12,110.63 649.56,112.68 650.00,113.82 650.44,111.55 650.88,112.31 651.33,113.19 651.77,113.06 652.21,115.21 652.65,113.99 653.09,115.21 653.52,114.98 653.96,115.54 654.40,116.98 654.84,117.24 655.28,114.74 655.71,117.42 656.15,116.04 656.59,115.49 657.02,116.67 657.46,117.34 657.90,119.06 658.33,117.40 658.77,116.50 659.20,119.49 659.63,117.34 660.07,118.78 660.50,120.25 660.93,119.47 661.37,119.54 661.80,120.94 662.23,118.78 662.66,120.80 663.09,120.59 663.52,122.65 663.95,122.36 664.38,120.35 664.81,121.06 665.24,122.15 665.67,123.20 666.10,122.36 666.53,122.78 666.96,124.83 667.38,125.30 667.81,124.04 668.24,125.87 668.66,124.56 669.09,124.21 669.52,125.88 669.94,126.64 670.37,127.68 670.79,128.25 671.22,128.05 671.64,128.39 672.06,128.62 672.49,128.96 672.91,129.44 673.33,130.31 673.75,128.93 674.18,128.42 674.60,129.16 675.02,129.41 675.44,130.10 675.86,131.61 676.28,129.87 676.70,131.22 677.12,132.49 677.54,131.32 677.96,131.08 678.38,131.85 678.79,131.74 679.21,133.93 679.63,132.56 680.05,132.92 680.46,134.82 680.88,135.10 681.29,134.82 681.71,135.94 682.13,134.06 682.54,136.64 682.96,135.94 683.37,135.56 683.78,137.15 684.20,137.03 684.61,138.12 685.02,136.26 685.44,137.73 685.85,137.78 686.26,138.52 686.67,137.85 687.08,137.66 687.49,139.20 687.90,139.09 688.31,140.64 688.72,139.93 689.13,140.15 689.54,140.96 689.95,141.02 690.36,142.33 690.77,142.24 691.17,141.88 691.58,141.55 691.99,142.74 692.40,143.37 692.80,143.70 693.21,144.53 693.61,143.13 694.02,143.89 694.42,144.20 694.83,144.28 695.23,144.69 695.64,145.24 696.04,145.69 696.44,145.42 696.85,145.46 697.25,146.13 697.65,146.10 698.05,146.78 698.45,147.84 698.86,147.99 699.26,149.09 699.66,148.52 700.06,148.81 700.46,149.30 700.86,149.77 701.26,149.86 701.66,150.11 702.06,150.45 702.46,150.29 702.86,151.39 703.26,151.37 703.66,151.14 704.06,151.37 704.46,151.41 704.86,152.25 705.26,152.02 705.66,152.63 706.06,152.81 706.46,153.53 706.86,154.00 707.26,154.74 707.66,155.39 708.06,155.49 708.46,155.10 708.86,156.59 709.26,156.68 709.66,156.67 710.06,157.23 710.46,157.38 710.86,157.23 711.26,158.26 711.66,159.10 712.06,159.13 712.46,158.66 712.86,158.93 713.26,160.37 713.66,160.68 714.06,160.81 714.46,161.16 714.86,160.73 715.26,161.86 715.66,161.36 716.06,161.59 716.46,162.16 716.86,161.96 717.26,163.19 717.66,162.69 718.06,163.59 718.46,163.69 718.86,164.15 719.26,164.23 719.66,164.86 720.06,164.54 720.46,164.92 720.86,165.03 721.26,165.68 721.66,165.54 722.06,166.25 722.46,165.89 722.86,166.29 723.26,166.73 723.66,166.74 724.06,167.08 724.46,167.85 724.86,167.75 725.26,167.90 725.66,168.62 726.06,168.69 726.46,169.00 726.86,169.43 727.26,169.58 727.66,169.56 728.06,169.70 728.46,170.30 728.86,170.66 729.26,170.99 729.66,170.94 730.06,171.45 730.46,171.88 730.86,171.82 731.26,172.12 731.66,172.46 732.06,172.81 732.46,173.28 732.86,173.37 733.26,173.78 733.66,173.96 734.06,174.15 734.46,174.36 734.86,174.66 735.26,175.12 735.66,175.14 736.06,175.40 736.46,175.72 736.86,176.18 737.26,176.34 737.66,176.55 738.06,176.88 738.46,177.07 738.86,177.48 739.26,177.90 739.66,178.04 740.06,178.32 740.46,178.41 740.86,178.75 741.26,178.93 741.66,179.17 742.06,179.70 742.46,179.89 742.86,180.18 743.26,180.20 743.66,180.52 744.06,180.94 744.46,181.04 744.86,181.43 745.26,181.69 745.66,181.66 746.06,182.03 746.46,182.40 746.86,182.78 747.26,183.23 747.66,183.67 748.06,184.08 748.46,184.47 748.86,185.09 749.26,185.60 749.66,185.81 750.06,186.42 750.46,186.62 750.86,186.77 751.26,187.05 751.66,187.41 752.06,187.59 752.46,187.90 752.86,188.16 753.26,188.56 753.66,188.73 754.06,188.97 754.46,189.35 754.86,189.62 755.26,189.84 755.66,190.02 756.06,190.40 756.46,190.60 756.86,190.91 757.26,191.17 757.66,191.48 758.06,191.89 758.46,192.29 758.86,192.65 759.26,193.06 759.66,193.42 760.06,193.85 760.46,194.29 760.86,194.63 761.26,195.08 761.66,195.48 762.06,195.84 762.46,196.27 762.86,197.02 763.26,197.84 763.66,198.61 764.06,199.43 764.46,200.23 764.86,201.01 765.26,202.13 765.66,203.44 766.06,204.75 766.46,206.06 766.86,207.36 767.26,211.33 767.66,216.16 767.90,221.00 768.00,270.00" fill="none" stroke="#0072BD" stroke-width="2.4" stroke-linejoin="round"/>
<polyline points="487.50,56.90 502.50,54.80 513.10,56.90 519.40,70.60 528.80,53.80 535.00,58.80 542.50,81.20 545.80,68.60 549.60,77.20 552.20,70.00 553.80,73.20 557.50,67.40 563.40,83.00 568.40,69.40 571.20,79.00 576.90,75.00 582.50,87.50 585.00,81.90 587.50,85.00 593.80,80.00 595.00,88.80 600.00,85.00 602.00,89.00 605.00,88.00 606.20,86.82 607.37,89.79 608.51,90.38 609.62,89.31 610.71,89.79 611.76,90.49 612.80,91.73 613.80,91.30 614.78,90.90 615.74,92.36 616.67,91.89 617.58,95.25 618.46,95.83 619.33,92.23 620.17,95.29 620.99,95.01 621.79,96.60 622.57,95.88 623.33,95.63 624.07,96.48 624.79,95.43 625.50,96.88 626.19,97.61 626.87,96.39 627.54,98.47 628.20,98.13 628.84,99.03 629.48,96.05 630.11,97.60 630.72,99.35 631.33,98.31 631.92,99.22 632.50,99.74 633.08,96.84 633.64,97.16 634.20,99.65 634.75,99.86 635.28,99.40 635.81,97.94 636.33,98.45 636.84,98.77 637.35,98.11 637.84,97.82 638.33,97.45 638.80,98.83 639.27,96.11 639.74,97.74 640.19,97.59 640.64,98.19 641.09,94.76 641.54,96.77 641.99,96.53 642.44,95.69 642.88,94.21 643.33,94.17 643.78,94.65 644.23,96.89 644.67,94.66 645.12,94.59 645.56,95.36 646.01,95.84 646.46,96.60 646.90,96.97 647.34,95.12 647.79,97.37 648.23,94.30 648.67,95.53 649.12,94.94 649.56,95.45 650.00,95.81 650.44,96.19 650.88,96.11 651.33,95.63 651.77,95.84 652.21,96.10 652.65,97.97 653.09,97.12 653.52,97.88 653.96,97.78 654.40,97.76 654.84,98.97 655.28,98.58 655.71,97.94 656.15,100.34 656.59,98.08 657.02,98.00 657.46,99.76 657.90,99.68 658.33,99.01 658.77,99.10 659.20,100.82 659.63,100.35 660.07,100.09 660.50,101.66 660.93,102.44 661.37,100.89 661.80,102.68 662.23,101.70 662.66,104.24 663.09,104.46 663.52,103.25 663.95,103.10 664.38,105.97 664.81,105.10 665.24,104.30 665.67,104.60 666.10,107.16 666.53,106.63 666.96,106.13 667.38,107.43 667.81,107.01 668.24,108.78 668.66,108.26 669.09,110.00 669.52,109.05 669.94,110.52 670.37,109.10 670.79,110.38 671.22,110.83 671.64,112.19 672.06,110.58 672.49,113.23 672.91,113.63 673.33,113.00 673.75,112.46 674.18,114.98 674.60,115.22 675.02,116.37 675.44,115.87 675.86,117.47 676.28,116.16 676.70,116.73 677.12,118.27 677.54,118.68 677.96,119.22 678.38,120.15 678.79,120.16 679.21,120.53 679.63,121.41 680.05,121.35 680.46,120.92 680.88,122.73 681.29,121.69 681.71,123.32 682.13,123.35 682.54,123.41 682.96,123.36 683.37,125.59 683.78,124.04 684.20,126.29 684.61,126.44 685.02,126.35 685.44,127.30 685.85,126.83 686.26,128.68 686.67,127.49 687.08,128.90 687.49,129.08 687.90,130.02 688.31,130.01 688.72,131.57 689.13,131.78 689.54,132.32 689.95,130.74 690.36,131.48 690.77,132.65 691.17,133.67 691.58,133.25 691.99,134.16 692.40,133.43 692.80,135.19 693.21,135.72 693.61,135.52 694.02,135.39 694.42,136.44 694.83,137.56 695.23,137.66 695.64,138.73 696.04,138.51 696.44,138.10 696.85,139.40 697.25,138.71 697.65,140.57 698.05,139.89 698.45,141.76 698.86,141.31 699.26,141.68 699.66,141.50 700.06,143.29 700.46,143.93 700.86,143.92 701.26,144.30 701.66,144.81 702.06,145.32 702.46,145.69 702.86,145.06 703.26,146.46 703.66,147.34 704.06,146.19 704.46,146.91 704.86,148.36 705.26,147.54 705.66,148.40 706.06,149.82 706.46,149.43 706.86,150.74 707.26,150.17 707.66,150.76 708.06,150.77 708.46,152.32 708.86,152.94 709.26,152.24 709.66,152.91 710.06,153.92 710.46,153.50 710.86,153.91 711.26,154.80 711.66,155.35 712.06,156.05 712.46,156.52 712.86,156.68 713.26,157.27 713.66,157.51 714.06,157.91 714.46,159.12 714.86,158.77 715.26,159.63 715.66,159.70 716.06,161.00 716.46,161.49 716.86,161.10 717.26,162.26 717.66,162.95 718.06,162.81 718.46,163.70 718.86,164.31 719.26,163.81 719.66,164.55 720.06,164.78 720.46,165.41 720.86,165.70 721.26,166.20 721.66,167.22 722.06,167.36 722.46,168.31 722.86,168.32 723.26,169.28 723.66,169.08 724.06,169.88 724.46,170.14 724.86,170.99 725.26,171.10 725.66,171.41 726.06,172.11 726.46,172.43 726.86,173.22 727.26,173.67 727.66,173.67 728.06,174.11 728.46,175.09 728.86,175.19 729.26,175.61 729.66,176.04 730.06,176.47 730.46,177.17 730.86,177.36 731.26,178.01 731.66,178.43 732.06,178.81 732.46,179.31 732.86,179.51 733.26,180.08 733.66,180.53 734.06,180.76 734.46,181.28 734.86,182.03 735.26,182.40 735.66,183.04 736.06,183.29 736.46,183.96 736.86,184.40 737.26,184.91 737.66,185.22 738.06,185.77 738.46,186.23 738.86,186.90 739.26,187.35 739.66,187.80 740.06,188.38 740.46,188.94 740.86,189.51 741.26,189.98 741.66,190.46 742.06,190.91 742.46,191.29 742.86,191.73 743.26,192.27 743.66,192.79 744.06,193.30 744.46,193.73 744.86,194.11 745.26,194.64 745.66,194.87 746.06,195.55 746.46,195.85 746.86,196.44 747.26,196.93 747.66,197.26 748.06,197.74 748.46,198.35 748.86,198.63 749.26,199.21 749.66,199.58 750.06,200.03 750.46,200.60 750.86,201.00 751.26,201.52 751.66,201.89 752.06,202.48 752.46,202.93 752.86,203.35 753.26,203.88 753.66,204.37 754.06,204.81 754.46,205.20 754.86,205.74 755.26,206.19 755.66,206.69 756.06,207.09 756.46,207.57 756.86,207.99 757.26,208.48 757.66,209.03 758.06,209.61 758.46,210.21 758.86,210.73 759.26,211.29 759.66,211.88 760.06,212.48 760.46,213.04 760.86,213.61 761.26,214.24 761.66,214.82 762.06,215.54 762.46,216.43 762.86,217.34 763.26,218.24 763.66,219.15 764.06,220.02 764.46,220.91 764.86,222.61 765.26,224.42 765.66,226.22 766.06,228.01 766.46,229.81 766.86,233.58 767.26,237.58 767.66,244.73 767.90,270.00 768.00,270.00" fill="none" stroke="#D95319" stroke-width="2.4" stroke-linejoin="round"/>
<line x1="466.4" y1="60.6" x2="783.6" y2="60.6" stroke="#FF0000" stroke-width="2.3" stroke-dasharray="7.8,7.3"/>
</g>
<rect x="466.7" y="20.4" width="316.90000000000003" height="245.99999999999997" fill="none" stroke="#262626" stroke-width="0.9"/>
<line x1="466.70" y1="266.4" x2="466.70" y2="263.2" stroke="#262626" stroke-width="0.7"/>
<line x1="466.70" y1="20.4" x2="466.70" y2="23.599999999999998" stroke="#262626" stroke-width="0.7"/>
<line x1="482.60" y1="266.4" x2="482.60" y2="264.59999999999997" stroke="#262626" stroke-width="0.6"/>
<line x1="482.60" y1="20.4" x2="482.60" y2="22.2" stroke="#262626" stroke-width="0.6"/>
<line x1="491.90" y1="266.4" x2="491.90" y2="264.59999999999997" stroke="#262626" stroke-width="0.6"/>
<line x1="491.90" y1="20.4" x2="491.90" y2="22.2" stroke="#262626" stroke-width="0.6"/>
<line x1="498.50" y1="266.4" x2="498.50" y2="264.59999999999997" stroke="#262626" stroke-width="0.6"/>
<line x1="498.50" y1="20.4" x2="498.50" y2="22.2" stroke="#262626" stroke-width="0.6"/>
<line x1="503.62" y1="266.4" x2="503.62" y2="264.59999999999997" stroke="#262626" stroke-width="0.6"/>
<line x1="503.62" y1="20.4" x2="503.62" y2="22.2" stroke="#262626" stroke-width="0.6"/>
<line x1="507.80" y1="266.4" x2="507.80" y2="264.59999999999997" stroke="#262626" stroke-width="0.6"/>
<line x1="507.80" y1="20.4" x2="507.80" y2="22.2" stroke="#262626" stroke-width="0.6"/>
<line x1="511.34" y1="266.4" x2="511.34" y2="264.59999999999997" stroke="#262626" stroke-width="0.6"/>
<line x1="511.34" y1="20.4" x2="511.34" y2="22.2" stroke="#262626" stroke-width="0.6"/>
<line x1="514.40" y1="266.4" x2="514.40" y2="264.59999999999997" stroke="#262626" stroke-width="0.6"/>
<line x1="514.40" y1="20.4" x2="514.40" y2="22.2" stroke="#262626" stroke-width="0.6"/>
<line x1="517.10" y1="266.4" x2="517.10" y2="264.59999999999997" stroke="#262626" stroke-width="0.6"/>
<line x1="517.10" y1="20.4" x2="517.10" y2="22.2" stroke="#262626" stroke-width="0.6"/>
<line x1="519.52" y1="266.4" x2="519.52" y2="264.4" stroke="#262626" stroke-width="0.7"/>
<line x1="519.52" y1="20.4" x2="519.52" y2="22.4" stroke="#262626" stroke-width="0.7"/>
<line x1="535.42" y1="266.4" x2="535.42" y2="264.59999999999997" stroke="#262626" stroke-width="0.6"/>
<line x1="535.42" y1="20.4" x2="535.42" y2="22.2" stroke="#262626" stroke-width="0.6"/>
<line x1="544.72" y1="266.4" x2="544.72" y2="264.59999999999997" stroke="#262626" stroke-width="0.6"/>
<line x1="544.72" y1="20.4" x2="544.72" y2="22.2" stroke="#262626" stroke-width="0.6"/>
<line x1="551.32" y1="266.4" x2="551.32" y2="264.59999999999997" stroke="#262626" stroke-width="0.6"/>
<line x1="551.32" y1="20.4" x2="551.32" y2="22.2" stroke="#262626" stroke-width="0.6"/>
<line x1="556.43" y1="266.4" x2="556.43" y2="264.59999999999997" stroke="#262626" stroke-width="0.6"/>
<line x1="556.43" y1="20.4" x2="556.43" y2="22.2" stroke="#262626" stroke-width="0.6"/>
<line x1="560.62" y1="266.4" x2="560.62" y2="264.59999999999997" stroke="#262626" stroke-width="0.6"/>
<line x1="560.62" y1="20.4" x2="560.62" y2="22.2" stroke="#262626" stroke-width="0.6"/>
<line x1="564.15" y1="266.4" x2="564.15" y2="264.59999999999997" stroke="#262626" stroke-width="0.6"/>
<line x1="564.15" y1="20.4" x2="564.15" y2="22.2" stroke="#262626" stroke-width="0.6"/>
<line x1="567.21" y1="266.4" x2="567.21" y2="264.59999999999997" stroke="#262626" stroke-width="0.6"/>
<line x1="567.21" y1="20.4" x2="567.21" y2="22.2" stroke="#262626" stroke-width="0.6"/>
<line x1="569.92" y1="266.4" x2="569.92" y2="264.59999999999997" stroke="#262626" stroke-width="0.6"/>
<line x1="569.92" y1="20.4" x2="569.92" y2="22.2" stroke="#262626" stroke-width="0.6"/>
<line x1="572.33" y1="266.4" x2="572.33" y2="263.2" stroke="#262626" stroke-width="0.7"/>
<line x1="572.33" y1="20.4" x2="572.33" y2="23.599999999999998" stroke="#262626" stroke-width="0.7"/>
<line x1="588.23" y1="266.4" x2="588.23" y2="264.59999999999997" stroke="#262626" stroke-width="0.6"/>
<line x1="588.23" y1="20.4" x2="588.23" y2="22.2" stroke="#262626" stroke-width="0.6"/>
<line x1="597.53" y1="266.4" x2="597.53" y2="264.59999999999997" stroke="#262626" stroke-width="0.6"/>
<line x1="597.53" y1="20.4" x2="597.53" y2="22.2" stroke="#262626" stroke-width="0.6"/>
<line x1="604.13" y1="266.4" x2="604.13" y2="264.59999999999997" stroke="#262626" stroke-width="0.6"/>
<line x1="604.13" y1="20.4" x2="604.13" y2="22.2" stroke="#262626" stroke-width="0.6"/>
<line x1="609.25" y1="266.4" x2="609.25" y2="264.59999999999997" stroke="#262626" stroke-width="0.6"/>
<line x1="609.25" y1="20.4" x2="609.25" y2="22.2" stroke="#262626" stroke-width="0.6"/>
<line x1="613.43" y1="266.4" x2="613.43" y2="264.59999999999997" stroke="#262626" stroke-width="0.6"/>
<line x1="613.43" y1="20.4" x2="613.43" y2="22.2" stroke="#262626" stroke-width="0.6"/>
<line x1="616.97" y1="266.4" x2="616.97" y2="264.59999999999997" stroke="#262626" stroke-width="0.6"/>
<line x1="616.97" y1="20.4" x2="616.97" y2="22.2" stroke="#262626" stroke-width="0.6"/>
<line x1="620.03" y1="266.4" x2="620.03" y2="264.59999999999997" stroke="#262626" stroke-width="0.6"/>
<line x1="620.03" y1="20.4" x2="620.03" y2="22.2" stroke="#262626" stroke-width="0.6"/>
<line x1="622.73" y1="266.4" x2="622.73" y2="264.59999999999997" stroke="#262626" stroke-width="0.6"/>
<line x1="622.73" y1="20.4" x2="622.73" y2="22.2" stroke="#262626" stroke-width="0.6"/>
<line x1="625.15" y1="266.4" x2="625.15" y2="264.4" stroke="#262626" stroke-width="0.7"/>
<line x1="625.15" y1="20.4" x2="625.15" y2="22.4" stroke="#262626" stroke-width="0.7"/>
<line x1="641.05" y1="266.4" x2="641.05" y2="264.59999999999997" stroke="#262626" stroke-width="0.6"/>
<line x1="641.05" y1="20.4" x2="641.05" y2="22.2" stroke="#262626" stroke-width="0.6"/>
<line x1="650.35" y1="266.4" x2="650.35" y2="264.59999999999997" stroke="#262626" stroke-width="0.6"/>
<line x1="650.35" y1="20.4" x2="650.35" y2="22.2" stroke="#262626" stroke-width="0.6"/>
<line x1="656.95" y1="266.4" x2="656.95" y2="264.59999999999997" stroke="#262626" stroke-width="0.6"/>
<line x1="656.95" y1="20.4" x2="656.95" y2="22.2" stroke="#262626" stroke-width="0.6"/>
<line x1="662.07" y1="266.4" x2="662.07" y2="264.59999999999997" stroke="#262626" stroke-width="0.6"/>
<line x1="662.07" y1="20.4" x2="662.07" y2="22.2" stroke="#262626" stroke-width="0.6"/>
<line x1="666.25" y1="266.4" x2="666.25" y2="264.59999999999997" stroke="#262626" stroke-width="0.6"/>
<line x1="666.25" y1="20.4" x2="666.25" y2="22.2" stroke="#262626" stroke-width="0.6"/>
<line x1="669.79" y1="266.4" x2="669.79" y2="264.59999999999997" stroke="#262626" stroke-width="0.6"/>
<line x1="669.79" y1="20.4" x2="669.79" y2="22.2" stroke="#262626" stroke-width="0.6"/>
<line x1="672.85" y1="266.4" x2="672.85" y2="264.59999999999997" stroke="#262626" stroke-width="0.6"/>
<line x1="672.85" y1="20.4" x2="672.85" y2="22.2" stroke="#262626" stroke-width="0.6"/>
<line x1="675.55" y1="266.4" x2="675.55" y2="264.59999999999997" stroke="#262626" stroke-width="0.6"/>
<line x1="675.55" y1="20.4" x2="675.55" y2="22.2" stroke="#262626" stroke-width="0.6"/>
<line x1="677.97" y1="266.4" x2="677.97" y2="263.2" stroke="#262626" stroke-width="0.7"/>
<line x1="677.97" y1="20.4" x2="677.97" y2="23.599999999999998" stroke="#262626" stroke-width="0.7"/>
<line x1="693.87" y1="266.4" x2="693.87" y2="264.59999999999997" stroke="#262626" stroke-width="0.6"/>
<line x1="693.87" y1="20.4" x2="693.87" y2="22.2" stroke="#262626" stroke-width="0.6"/>
<line x1="703.17" y1="266.4" x2="703.17" y2="264.59999999999997" stroke="#262626" stroke-width="0.6"/>
<line x1="703.17" y1="20.4" x2="703.17" y2="22.2" stroke="#262626" stroke-width="0.6"/>
<line x1="709.77" y1="266.4" x2="709.77" y2="264.59999999999997" stroke="#262626" stroke-width="0.6"/>
<line x1="709.77" y1="20.4" x2="709.77" y2="22.2" stroke="#262626" stroke-width="0.6"/>
<line x1="714.88" y1="266.4" x2="714.88" y2="264.59999999999997" stroke="#262626" stroke-width="0.6"/>
<line x1="714.88" y1="20.4" x2="714.88" y2="22.2" stroke="#262626" stroke-width="0.6"/>
<line x1="719.07" y1="266.4" x2="719.07" y2="264.59999999999997" stroke="#262626" stroke-width="0.6"/>
<line x1="719.07" y1="20.4" x2="719.07" y2="22.2" stroke="#262626" stroke-width="0.6"/>
<line x1="722.60" y1="266.4" x2="722.60" y2="264.59999999999997" stroke="#262626" stroke-width="0.6"/>
<line x1="722.60" y1="20.4" x2="722.60" y2="22.2" stroke="#262626" stroke-width="0.6"/>
<line x1="725.66" y1="266.4" x2="725.66" y2="264.59999999999997" stroke="#262626" stroke-width="0.6"/>
<line x1="725.66" y1="20.4" x2="725.66" y2="22.2" stroke="#262626" stroke-width="0.6"/>
<line x1="728.37" y1="266.4" x2="728.37" y2="264.59999999999997" stroke="#262626" stroke-width="0.6"/>
<line x1="728.37" y1="20.4" x2="728.37" y2="22.2" stroke="#262626" stroke-width="0.6"/>
<line x1="730.78" y1="266.4" x2="730.78" y2="264.4" stroke="#262626" stroke-width="0.7"/>
<line x1="730.78" y1="20.4" x2="730.78" y2="22.4" stroke="#262626" stroke-width="0.7"/>
<line x1="746.68" y1="266.4" x2="746.68" y2="264.59999999999997" stroke="#262626" stroke-width="0.6"/>
<line x1="746.68" y1="20.4" x2="746.68" y2="22.2" stroke="#262626" stroke-width="0.6"/>
<line x1="755.98" y1="266.4" x2="755.98" y2="264.59999999999997" stroke="#262626" stroke-width="0.6"/>
<line x1="755.98" y1="20.4" x2="755.98" y2="22.2" stroke="#262626" stroke-width="0.6"/>
<line x1="762.58" y1="266.4" x2="762.58" y2="264.59999999999997" stroke="#262626" stroke-width="0.6"/>
<line x1="762.58" y1="20.4" x2="762.58" y2="22.2" stroke="#262626" stroke-width="0.6"/>
<line x1="767.70" y1="266.4" x2="767.70" y2="264.59999999999997" stroke="#262626" stroke-width="0.6"/>
<line x1="767.70" y1="20.4" x2="767.70" y2="22.2" stroke="#262626" stroke-width="0.6"/>
<line x1="771.88" y1="266.4" x2="771.88" y2="264.59999999999997" stroke="#262626" stroke-width="0.6"/>
<line x1="771.88" y1="20.4" x2="771.88" y2="22.2" stroke="#262626" stroke-width="0.6"/>
<line x1="775.42" y1="266.4" x2="775.42" y2="264.59999999999997" stroke="#262626" stroke-width="0.6"/>
<line x1="775.42" y1="20.4" x2="775.42" y2="22.2" stroke="#262626" stroke-width="0.6"/>
<line x1="778.48" y1="266.4" x2="778.48" y2="264.59999999999997" stroke="#262626" stroke-width="0.6"/>
<line x1="778.48" y1="20.4" x2="778.48" y2="22.2" stroke="#262626" stroke-width="0.6"/>
<line x1="781.18" y1="266.4" x2="781.18" y2="264.59999999999997" stroke="#262626" stroke-width="0.6"/>
<line x1="781.18" y1="20.4" x2="781.18" y2="22.2" stroke="#262626" stroke-width="0.6"/>
<line x1="783.60" y1="266.4" x2="783.60" y2="263.2" stroke="#262626" stroke-width="0.7"/>
<line x1="783.60" y1="20.4" x2="783.60" y2="23.599999999999998" stroke="#262626" stroke-width="0.7"/>
<line x1="466.7" y1="261.60" x2="468.5" y2="261.60" stroke="#262626" stroke-width="0.7"/>
<line x1="783.6" y1="261.60" x2="781.8000000000001" y2="261.60" stroke="#262626" stroke-width="0.7"/>
<line x1="466.7" y1="241.50" x2="468.5" y2="241.50" stroke="#262626" stroke-width="0.7"/>
<line x1="783.6" y1="241.50" x2="781.8000000000001" y2="241.50" stroke="#262626" stroke-width="0.7"/>
<line x1="466.7" y1="221.40" x2="469.9" y2="221.40" stroke="#262626" stroke-width="0.7"/>
<line x1="783.6" y1="221.40" x2="780.4" y2="221.40" stroke="#262626" stroke-width="0.7"/>
<line x1="466.7" y1="201.30" x2="468.5" y2="201.30" stroke="#262626" stroke-width="0.7"/>
<line x1="783.6" y1="201.30" x2="781.8000000000001" y2="201.30" stroke="#262626" stroke-width="0.7"/>
<line x1="466.7" y1="181.20" x2="468.5" y2="181.20" stroke="#262626" stroke-width="0.7"/>
<line x1="783.6" y1="181.20" x2="781.8000000000001" y2="181.20" stroke="#262626" stroke-width="0.7"/>
<line x1="466.7" y1="161.10" x2="468.5" y2="161.10" stroke="#262626" stroke-width="0.7"/>
<line x1="783.6" y1="161.10" x2="781.8000000000001" y2="161.10" stroke="#262626" stroke-width="0.7"/>
<line x1="466.7" y1="141.00" x2="468.5" y2="141.00" stroke="#262626" stroke-width="0.7"/>
<line x1="783.6" y1="141.00" x2="781.8000000000001" y2="141.00" stroke="#262626" stroke-width="0.7"/>
<line x1="466.7" y1="120.90" x2="469.9" y2="120.90" stroke="#262626" stroke-width="0.7"/>
<line x1="783.6" y1="120.90" x2="780.4" y2="120.90" stroke="#262626" stroke-width="0.7"/>
<line x1="466.7" y1="100.80" x2="468.5" y2="100.80" stroke="#262626" stroke-width="0.7"/>
<line x1="783.6" y1="100.80" x2="781.8000000000001" y2="100.80" stroke="#262626" stroke-width="0.7"/>
<line x1="466.7" y1="80.70" x2="468.5" y2="80.70" stroke="#262626" stroke-width="0.7"/>
<line x1="783.6" y1="80.70" x2="781.8000000000001" y2="80.70" stroke="#262626" stroke-width="0.7"/>
<line x1="466.7" y1="60.60" x2="468.5" y2="60.60" stroke="#262626" stroke-width="0.7"/>
<line x1="783.6" y1="60.60" x2="781.8000000000001" y2="60.60" stroke="#262626" stroke-width="0.7"/>
<line x1="466.7" y1="40.50" x2="468.5" y2="40.50" stroke="#262626" stroke-width="0.7"/>
<line x1="783.6" y1="40.50" x2="781.8000000000001" y2="40.50" stroke="#262626" stroke-width="0.7"/>
<line x1="466.7" y1="20.40" x2="469.9" y2="20.40" stroke="#262626" stroke-width="0.7"/>
<line x1="783.6" y1="20.40" x2="780.4" y2="20.40" stroke="#262626" stroke-width="0.7"/>
<text y="288.40" font-size="12.6" font-weight="bold" fill="#262626"><tspan x="454.70">10</tspan><tspan dy="-5.6" font-size="9.8">-4</tspan></text>
<text y="288.40" font-size="12.6" font-weight="bold" fill="#262626"><tspan x="560.33">10</tspan><tspan dy="-5.6" font-size="9.8">-2</tspan></text>
<text y="288.40" font-size="12.6" font-weight="bold" fill="#262626"><tspan x="668.82">10</tspan><tspan dy="-5.6" font-size="9.8">0</tspan></text>
<text y="288.40" font-size="12.6" font-weight="bold" fill="#262626"><tspan x="774.45">10</tspan><tspan dy="-5.6" font-size="9.8">2</tspan></text>
<text y="27.20" font-size="12.6" font-weight="bold" fill="#262626"><tspan x="439.40">10</tspan><tspan dy="-5.6" font-size="9.8">-5</tspan></text>
<text y="127.70" font-size="12.6" font-weight="bold" fill="#262626"><tspan x="434.00">10</tspan><tspan dy="-5.6" font-size="9.8">-10</tspan></text>
<text y="228.20" font-size="12.6" font-weight="bold" fill="#262626"><tspan x="434.00">10</tspan><tspan dy="-5.6" font-size="9.8">-15</tspan></text>
<text x="625" y="306.5" font-size="14.7" font-weight="bold" text-anchor="middle" fill="#262626">Frequency (Hz)</text>
<text transform="translate(425.2,143.5) rotate(-90)" font-size="14.7" font-weight="bold" text-anchor="middle" fill="#262626">ASD (rad/Hz<tspan dy="-5.2" font-size="9.8">1/2</tspan><tspan dy="5.2">)</tspan></text>
<rect x="669.5" y="28.5" width="106.2" height="47.4" fill="#fff" stroke="#262626" stroke-width="0.9"/>
<line x1="672.3" y1="37.3" x2="703.3" y2="37.3" stroke="#0072BD" stroke-width="2.3"/>
<line x1="672.3" y1="52.5" x2="703.3" y2="52.5" stroke="#D95319" stroke-width="2.3"/>
<line x1="672.3" y1="67.6" x2="703.3" y2="67.6" stroke="#FF0000" stroke-width="2.3" stroke-dasharray="8.0,7.3"/>
<text x="706.6" y="42.5" font-size="11.3" font-weight="bold" fill="#000">LQR</text>
<text x="706.6" y="57.7" font-size="11.3" font-weight="bold" fill="#000">NSEF</text>
<text x="706.6" y="72.6" font-size="11.3" font-weight="bold" fill="#000">requirement</text>
</g>
<text x="189.7" y="334.6" font-family="Liberation Serif, serif" font-size="20" text-anchor="middle" fill="#111">(<tspan font-weight="bold">a</tspan>)</text>
<text x="602.5" y="334.6" font-family="Liberation Serif, serif" font-size="21" text-anchor="middle" fill="#111">(<tspan font-weight="bold">b</tspan>)</text>
</svg>
</body></html>
